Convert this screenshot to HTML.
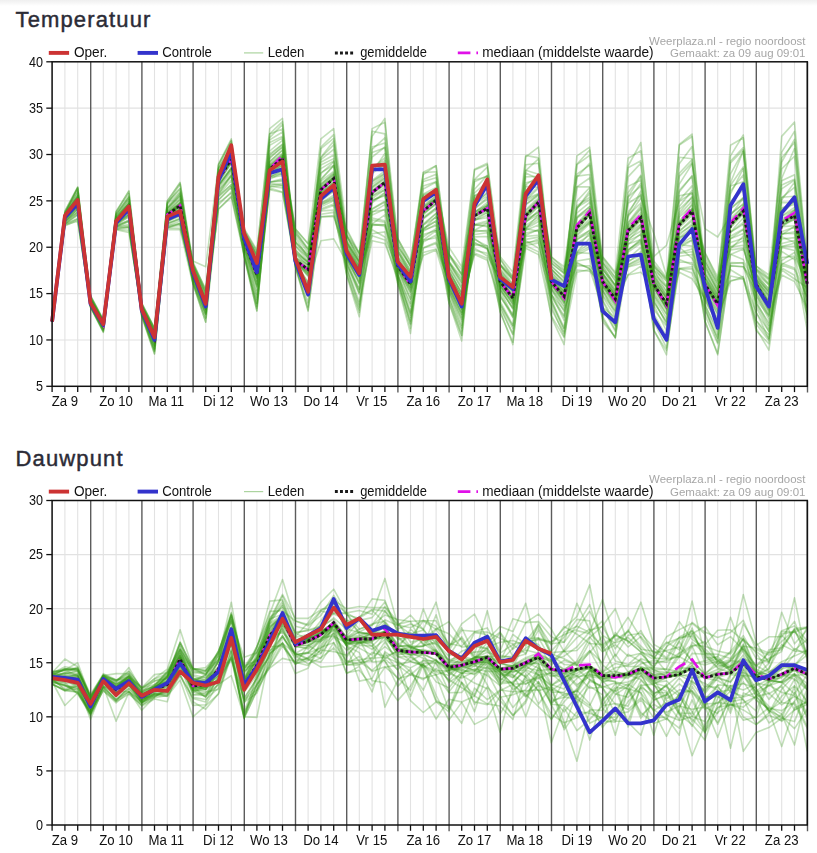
<!DOCTYPE html>
<html lang="nl"><head><meta charset="utf-8"><title>Pluim</title>
<style>
html,body{margin:0;padding:0;background:#fff;}
body{width:817px;height:853px;overflow:hidden;position:relative;font-family:"Liberation Sans",sans-serif;background:linear-gradient(#efefef 0px,#fff 6px) no-repeat #fff;}
h2{position:absolute;left:15.5px;margin:0;font-size:22px;font-weight:normal;letter-spacing:1.14px;-webkit-text-stroke:0.45px #2b2b36;color:#2b2b36;line-height:1;white-space:nowrap;}
svg{position:absolute;left:0;top:0;filter:blur(0.35px);}
svg text{font-family:"Liberation Sans",sans-serif;font-size:13.2px;fill:#111;}
svg .wm text{font-size:11.3px;fill:#a6a6a6;}
</style></head><body>
<h2 style="top:8.5px">Temperatuur</h2>
<h2 style="top:447.5px">Dauwpunt</h2>
<svg width="817" height="853" viewBox="0 0 817 853">
<line x1="52.1" x2="807.3000000000001" y1="339.94" y2="339.94" stroke="#e2e2e2" stroke-width="1.1"/>
<line x1="52.1" x2="807.3000000000001" y1="293.59" y2="293.59" stroke="#e2e2e2" stroke-width="1.1"/>
<line x1="52.1" x2="807.3000000000001" y1="247.23" y2="247.23" stroke="#e2e2e2" stroke-width="1.1"/>
<line x1="52.1" x2="807.3000000000001" y1="200.87" y2="200.87" stroke="#e2e2e2" stroke-width="1.1"/>
<line x1="52.1" x2="807.3000000000001" y1="154.51" y2="154.51" stroke="#e2e2e2" stroke-width="1.1"/>
<line x1="52.1" x2="807.3000000000001" y1="108.16" y2="108.16" stroke="#e2e2e2" stroke-width="1.1"/>
<line x1="52.10" x2="52.10" y1="61.8" y2="386.3" stroke="#e2e2e2" stroke-width="1.1"/>
<line x1="64.90" x2="64.90" y1="61.8" y2="386.3" stroke="#e2e2e2" stroke-width="1.1"/>
<line x1="77.70" x2="77.70" y1="61.8" y2="386.3" stroke="#e2e2e2" stroke-width="1.1"/>
<line x1="90.70" x2="90.70" y1="61.8" y2="392.5" stroke="#5c5c5c" stroke-width="1.4"/>
<line x1="103.30" x2="103.30" y1="61.8" y2="386.3" stroke="#e2e2e2" stroke-width="1.1"/>
<line x1="116.10" x2="116.10" y1="61.8" y2="386.3" stroke="#e2e2e2" stroke-width="1.1"/>
<line x1="128.90" x2="128.90" y1="61.8" y2="386.3" stroke="#e2e2e2" stroke-width="1.1"/>
<line x1="141.90" x2="141.90" y1="61.8" y2="392.5" stroke="#5c5c5c" stroke-width="1.4"/>
<line x1="154.50" x2="154.50" y1="61.8" y2="386.3" stroke="#e2e2e2" stroke-width="1.1"/>
<line x1="167.30" x2="167.30" y1="61.8" y2="386.3" stroke="#e2e2e2" stroke-width="1.1"/>
<line x1="180.10" x2="180.10" y1="61.8" y2="386.3" stroke="#e2e2e2" stroke-width="1.1"/>
<line x1="193.10" x2="193.10" y1="61.8" y2="392.5" stroke="#5c5c5c" stroke-width="1.4"/>
<line x1="205.70" x2="205.70" y1="61.8" y2="386.3" stroke="#e2e2e2" stroke-width="1.1"/>
<line x1="218.50" x2="218.50" y1="61.8" y2="386.3" stroke="#e2e2e2" stroke-width="1.1"/>
<line x1="231.30" x2="231.30" y1="61.8" y2="386.3" stroke="#e2e2e2" stroke-width="1.1"/>
<line x1="244.30" x2="244.30" y1="61.8" y2="392.5" stroke="#5c5c5c" stroke-width="1.4"/>
<line x1="256.90" x2="256.90" y1="61.8" y2="386.3" stroke="#e2e2e2" stroke-width="1.1"/>
<line x1="269.70" x2="269.70" y1="61.8" y2="386.3" stroke="#e2e2e2" stroke-width="1.1"/>
<line x1="282.50" x2="282.50" y1="61.8" y2="386.3" stroke="#e2e2e2" stroke-width="1.1"/>
<line x1="295.50" x2="295.50" y1="61.8" y2="392.5" stroke="#5c5c5c" stroke-width="1.4"/>
<line x1="308.10" x2="308.10" y1="61.8" y2="386.3" stroke="#e2e2e2" stroke-width="1.1"/>
<line x1="320.90" x2="320.90" y1="61.8" y2="386.3" stroke="#e2e2e2" stroke-width="1.1"/>
<line x1="333.70" x2="333.70" y1="61.8" y2="386.3" stroke="#e2e2e2" stroke-width="1.1"/>
<line x1="346.70" x2="346.70" y1="61.8" y2="392.5" stroke="#5c5c5c" stroke-width="1.4"/>
<line x1="359.30" x2="359.30" y1="61.8" y2="386.3" stroke="#e2e2e2" stroke-width="1.1"/>
<line x1="372.10" x2="372.10" y1="61.8" y2="386.3" stroke="#e2e2e2" stroke-width="1.1"/>
<line x1="384.90" x2="384.90" y1="61.8" y2="386.3" stroke="#e2e2e2" stroke-width="1.1"/>
<line x1="397.90" x2="397.90" y1="61.8" y2="392.5" stroke="#5c5c5c" stroke-width="1.4"/>
<line x1="410.50" x2="410.50" y1="61.8" y2="386.3" stroke="#e2e2e2" stroke-width="1.1"/>
<line x1="423.30" x2="423.30" y1="61.8" y2="386.3" stroke="#e2e2e2" stroke-width="1.1"/>
<line x1="436.10" x2="436.10" y1="61.8" y2="386.3" stroke="#e2e2e2" stroke-width="1.1"/>
<line x1="449.10" x2="449.10" y1="61.8" y2="392.5" stroke="#5c5c5c" stroke-width="1.4"/>
<line x1="461.70" x2="461.70" y1="61.8" y2="386.3" stroke="#e2e2e2" stroke-width="1.1"/>
<line x1="474.50" x2="474.50" y1="61.8" y2="386.3" stroke="#e2e2e2" stroke-width="1.1"/>
<line x1="487.30" x2="487.30" y1="61.8" y2="386.3" stroke="#e2e2e2" stroke-width="1.1"/>
<line x1="500.30" x2="500.30" y1="61.8" y2="392.5" stroke="#5c5c5c" stroke-width="1.4"/>
<line x1="512.90" x2="512.90" y1="61.8" y2="386.3" stroke="#e2e2e2" stroke-width="1.1"/>
<line x1="525.70" x2="525.70" y1="61.8" y2="386.3" stroke="#e2e2e2" stroke-width="1.1"/>
<line x1="538.50" x2="538.50" y1="61.8" y2="386.3" stroke="#e2e2e2" stroke-width="1.1"/>
<line x1="551.50" x2="551.50" y1="61.8" y2="392.5" stroke="#5c5c5c" stroke-width="1.4"/>
<line x1="564.10" x2="564.10" y1="61.8" y2="386.3" stroke="#e2e2e2" stroke-width="1.1"/>
<line x1="576.90" x2="576.90" y1="61.8" y2="386.3" stroke="#e2e2e2" stroke-width="1.1"/>
<line x1="589.70" x2="589.70" y1="61.8" y2="386.3" stroke="#e2e2e2" stroke-width="1.1"/>
<line x1="602.70" x2="602.70" y1="61.8" y2="392.5" stroke="#5c5c5c" stroke-width="1.4"/>
<line x1="615.30" x2="615.30" y1="61.8" y2="386.3" stroke="#e2e2e2" stroke-width="1.1"/>
<line x1="628.10" x2="628.10" y1="61.8" y2="386.3" stroke="#e2e2e2" stroke-width="1.1"/>
<line x1="640.90" x2="640.90" y1="61.8" y2="386.3" stroke="#e2e2e2" stroke-width="1.1"/>
<line x1="653.90" x2="653.90" y1="61.8" y2="392.5" stroke="#5c5c5c" stroke-width="1.4"/>
<line x1="666.50" x2="666.50" y1="61.8" y2="386.3" stroke="#e2e2e2" stroke-width="1.1"/>
<line x1="679.30" x2="679.30" y1="61.8" y2="386.3" stroke="#e2e2e2" stroke-width="1.1"/>
<line x1="692.10" x2="692.10" y1="61.8" y2="386.3" stroke="#e2e2e2" stroke-width="1.1"/>
<line x1="705.10" x2="705.10" y1="61.8" y2="392.5" stroke="#5c5c5c" stroke-width="1.4"/>
<line x1="717.70" x2="717.70" y1="61.8" y2="386.3" stroke="#e2e2e2" stroke-width="1.1"/>
<line x1="730.50" x2="730.50" y1="61.8" y2="386.3" stroke="#e2e2e2" stroke-width="1.1"/>
<line x1="743.30" x2="743.30" y1="61.8" y2="386.3" stroke="#e2e2e2" stroke-width="1.1"/>
<line x1="756.30" x2="756.30" y1="61.8" y2="392.5" stroke="#5c5c5c" stroke-width="1.4"/>
<line x1="768.90" x2="768.90" y1="61.8" y2="386.3" stroke="#e2e2e2" stroke-width="1.1"/>
<line x1="781.70" x2="781.70" y1="61.8" y2="386.3" stroke="#e2e2e2" stroke-width="1.1"/>
<line x1="794.50" x2="794.50" y1="61.8" y2="386.3" stroke="#e2e2e2" stroke-width="1.1"/>
<line x1="807.50" x2="807.50" y1="61.8" y2="392.5" stroke="#5c5c5c" stroke-width="1.4"/>
<g stroke="#2f9410" stroke-opacity="0.29" stroke-width="1.6" stroke-linejoin="round" style="filter:blur(0.35px)">
<polyline points="52.1,321.4 64.9,221.1 77.7,208.7 90.5,303.5 103.3,326.3 116.1,226.4 128.9,224.5 141.7,311.3 154.5,343.5 167.3,220.5 180.1,216.4 192.9,271.8 205.7,303.8 218.5,200.2 231.3,187.5 244.1,243.1 256.9,284.9 269.7,177.7 282.5,175.4 295.3,263.0 308.1,285.5 320.9,193.5 333.7,185.1 346.5,261.2 359.3,292.2 372.1,192.3 384.9,182.0 397.7,266.9 410.5,288.7 423.3,225.0 436.1,213.5 448.9,285.6 461.7,312.6 474.5,224.7 487.3,225.7 500.1,281.3 512.9,297.6 525.7,216.3 538.5,203.3 551.3,278.9 564.1,294.1 576.9,243.4 589.7,235.2 602.5,279.0 615.3,295.6 628.1,196.6 640.9,176.2 653.7,283.9 666.5,303.5 679.3,163.7 692.1,146.5 704.9,291.9 717.7,314.0 730.5,227.8 743.3,214.1 756.1,285.4 768.9,306.2 781.7,222.8 794.5,214.9 807.3,280.6" fill="none" />
<polyline points="52.1,321.4 64.9,222.3 77.7,212.0 90.5,307.0 103.3,331.5 116.1,226.4 128.9,221.5 141.7,316.8 154.5,353.8 167.3,225.8 180.1,223.6 192.9,282.8 205.7,322.3 218.5,190.2 231.3,175.6 244.1,247.4 256.9,287.1 269.7,186.3 282.5,187.9 295.3,265.3 308.1,296.1 320.9,201.2 333.7,191.2 346.5,275.0 359.3,316.8 372.1,225.4 384.9,224.6 397.7,266.8 410.5,289.8 423.3,229.2 436.1,221.0 448.9,298.6 461.7,330.9 474.5,231.6 487.3,230.4 500.1,288.7 512.9,308.5 525.7,240.8 538.5,248.1 551.3,284.6 564.1,300.4 576.9,261.0 589.7,258.9 602.5,316.5 615.3,338.1 628.1,223.1 640.9,207.7 653.7,316.5 666.5,339.4 679.3,244.9 692.1,236.9 704.9,278.4 717.7,300.8 730.5,236.2 743.3,229.0 756.1,282.8 768.9,303.3 781.7,168.9 794.5,156.2 807.3,289.0" fill="none" />
<polyline points="52.1,321.4 64.9,218.1 77.7,204.2 90.5,305.5 103.3,329.1 116.1,222.4 128.9,211.4 141.7,315.4 154.5,350.9 167.3,214.1 180.1,203.0 192.9,273.4 205.7,306.0 218.5,188.5 231.3,172.0 244.1,239.8 256.9,275.0 269.7,182.2 282.5,180.1 295.3,262.5 308.1,282.8 320.9,240.7 333.7,238.9 346.5,261.7 359.3,293.1 372.1,218.1 384.9,220.9 397.7,284.3 410.5,333.5 423.3,229.9 436.1,225.8 448.9,292.3 461.7,325.5 474.5,234.5 487.3,232.7 500.1,297.0 512.9,314.4 525.7,235.2 538.5,229.4 551.3,309.0 564.1,333.3 576.9,252.6 589.7,253.4 602.5,307.4 615.3,329.9 628.1,240.7 640.9,226.6 653.7,309.3 666.5,325.9 679.3,245.7 692.1,239.7 704.9,321.4 717.7,353.6 730.5,263.6 743.3,262.8 756.1,301.2 768.9,325.3 781.7,265.0 794.5,269.4 807.3,308.0" fill="none" />
<polyline points="52.1,321.4 64.9,224.6 77.7,219.0 90.5,306.3 103.3,329.5 116.1,221.4 128.9,208.1 141.7,315.4 154.5,351.6 167.3,227.9 180.1,228.4 192.9,274.8 205.7,309.2 218.5,180.8 231.3,161.7 244.1,246.2 256.9,290.5 269.7,186.8 282.5,185.5 295.3,263.4 308.1,293.9 320.9,205.2 333.7,197.7 346.5,253.0 359.3,272.4 372.1,235.7 384.9,239.9 397.7,280.7 410.5,321.1 423.3,229.6 436.1,216.4 448.9,279.5 461.7,301.5 474.5,253.0 487.3,258.2 500.1,308.0 512.9,334.7 525.7,248.2 538.5,254.6 551.3,315.6 564.1,337.3 576.9,255.1 589.7,248.5 602.5,318.9 615.3,337.5 628.1,258.3 640.9,247.3 653.7,299.0 666.5,324.6 679.3,231.2 692.1,221.0 704.9,277.6 717.7,296.3 730.5,246.7 743.3,240.7 756.1,320.5 768.9,334.7 781.7,260.6 794.5,252.5 807.3,284.1" fill="none" />
<polyline points="52.1,321.4 64.9,223.9 77.7,214.3 90.5,302.9 103.3,325.2 116.1,228.7 128.9,227.0 141.7,314.3 154.5,348.6 167.3,225.4 180.1,221.3 192.9,278.9 205.7,313.0 218.5,186.7 231.3,170.0 244.1,239.7 256.9,275.0 269.7,168.9 282.5,158.2 295.3,267.6 308.1,310.0 320.9,217.0 333.7,215.6 346.5,253.6 359.3,275.3 372.1,224.4 384.9,224.7 397.7,274.3 410.5,317.3 423.3,217.5 436.1,208.0 448.9,290.2 461.7,319.3 474.5,239.5 487.3,245.9 500.1,312.1 512.9,342.3 525.7,233.1 538.5,230.3 551.3,296.9 564.1,317.1 576.9,225.8 589.7,210.5 602.5,291.0 615.3,310.4 628.1,264.7 640.9,257.5 653.7,282.7 666.5,303.0 679.3,225.0 692.1,211.1 704.9,287.6 717.7,307.5 730.5,224.7 743.3,208.7 756.1,288.9 768.9,311.1 781.7,209.1 794.5,201.3 807.3,284.8" fill="none" />
<polyline points="52.1,321.4 64.9,225.0 77.7,221.3 90.5,304.0 103.3,327.1 116.1,227.3 128.9,227.1 141.7,312.5 154.5,346.2 167.3,228.0 180.1,223.6 192.9,279.9 205.7,314.2 218.5,204.9 231.3,191.9 244.1,240.9 256.9,277.6 269.7,182.1 282.5,178.9 295.3,265.3 308.1,311.2 320.9,214.2 333.7,212.4 346.5,268.5 359.3,306.9 372.1,233.8 384.9,231.9 397.7,276.8 410.5,312.9 423.3,252.4 436.1,249.0 448.9,279.7 461.7,302.2 474.5,254.6 487.3,260.2 500.1,301.4 512.9,325.4 525.7,244.0 538.5,238.9 551.3,316.8 564.1,344.6 576.9,232.1 589.7,222.9 602.5,321.4 615.3,337.3 628.1,244.4 640.9,233.6 653.7,321.3 666.5,347.9 679.3,268.5 692.1,273.1 704.9,307.4 717.7,342.4 730.5,262.5 743.3,263.0 756.1,328.3 768.9,350.1 781.7,264.4 794.5,257.4 807.3,301.1" fill="none" />
<polyline points="52.1,321.4 64.9,218.8 77.7,206.6 90.5,304.4 103.3,327.1 116.1,219.5 128.9,205.8 141.7,311.9 154.5,345.2 167.3,218.2 180.1,209.8 192.9,272.9 205.7,305.6 218.5,191.3 231.3,175.3 244.1,240.8 256.9,276.7 269.7,177.1 282.5,173.0 295.3,262.9 308.1,288.0 320.9,195.6 333.7,186.6 346.5,257.1 359.3,283.5 372.1,200.9 384.9,194.9 397.7,260.5 410.5,279.6 423.3,218.4 436.1,208.0 448.9,279.7 461.7,303.0 474.5,218.9 487.3,212.0 500.1,283.5 512.9,300.7 525.7,214.4 538.5,200.8 551.3,281.2 564.1,296.2 576.9,218.2 589.7,209.4 602.5,280.9 615.3,299.1 628.1,233.4 640.9,220.4 653.7,296.5 666.5,318.2 679.3,225.0 692.1,213.4 704.9,253.2 717.7,276.9 730.5,185.3 743.3,166.9 756.1,286.5 768.9,309.3 781.7,207.8 794.5,204.5 807.3,283.3" fill="none" />
<polyline points="52.1,321.4 64.9,217.2 77.7,201.1 90.5,307.5 103.3,332.5 116.1,229.2 128.9,230.3 141.7,312.5 154.5,345.2 167.3,211.3 180.1,198.6 192.9,283.5 205.7,317.6 218.5,184.7 231.3,167.8 244.1,243.4 256.9,281.4 269.7,169.2 282.5,158.2 295.3,263.6 308.1,290.2 320.9,203.3 333.7,197.2 346.5,268.4 359.3,304.7 372.1,212.2 384.9,204.6 397.7,281.1 410.5,323.3 423.3,231.3 436.1,224.2 448.9,302.9 461.7,335.4 474.5,215.4 487.3,208.0 500.1,295.7 512.9,317.7 525.7,219.1 538.5,206.4 551.3,286.8 564.1,303.3 576.9,245.2 589.7,242.8 602.5,282.0 615.3,299.5 628.1,249.7 640.9,240.5 653.7,329.4 666.5,354.8 679.3,253.5 692.1,251.7 704.9,291.6 717.7,313.9 730.5,232.3 743.3,222.5 756.1,312.7 768.9,331.2 781.7,268.0 794.5,275.2 807.3,314.6" fill="none" />
<polyline points="52.1,321.4 64.9,223.9 77.7,218.4 90.5,306.9 103.3,331.8 116.1,228.9 128.9,227.8 141.7,313.7 154.5,349.0 167.3,229.6 180.1,229.6 192.9,284.3 205.7,322.0 218.5,202.9 231.3,193.1 244.1,253.3 256.9,308.2 269.7,175.1 282.5,167.1 295.3,266.3 308.1,306.9 320.9,204.5 333.7,199.8 346.5,255.9 359.3,284.0 372.1,202.9 384.9,193.2 397.7,270.6 410.5,299.2 423.3,242.0 436.1,235.0 448.9,302.3 461.7,340.9 474.5,220.5 487.3,215.3 500.1,303.9 512.9,328.4 525.7,236.4 538.5,235.2 551.3,281.3 564.1,296.0 576.9,265.9 589.7,265.9 602.5,279.8 615.3,298.1 628.1,275.0 640.9,272.3 653.7,287.2 666.5,307.9 679.3,235.2 692.1,223.9 704.9,296.0 717.7,317.8 730.5,281.5 743.3,276.4 756.1,330.7 768.9,343.8 781.7,224.8 794.5,218.2 807.3,318.1" fill="none" />
<polyline points="52.1,321.4 64.9,216.8 77.7,201.4 90.5,305.3 103.3,328.5 116.1,226.5 128.9,221.5 141.7,309.2 154.5,338.0 167.3,224.0 180.1,218.5 192.9,282.4 205.7,318.1 218.5,194.3 231.3,174.6 244.1,247.6 256.9,297.3 269.7,189.7 282.5,192.5 295.3,264.5 308.1,290.8 320.9,208.8 333.7,203.9 346.5,264.2 359.3,294.5 372.1,224.3 384.9,226.3 397.7,274.4 410.5,303.5 423.3,248.2 436.1,243.6 448.9,283.3 461.7,309.3 474.5,250.4 487.3,253.3 500.1,281.5 512.9,298.3 525.7,242.3 538.5,241.4 551.3,302.7 564.1,328.5 576.9,263.6 589.7,268.5 602.5,290.5 615.3,313.6 628.1,252.2 640.9,243.1 653.7,295.0 666.5,314.4 679.3,244.8 692.1,246.1 704.9,320.9 717.7,354.8 730.5,265.9 743.3,266.8 756.1,292.5 768.9,312.1 781.7,246.5 794.5,246.3 807.3,285.8" fill="none" />
<polyline points="52.1,321.4 64.9,217.8 77.7,202.2 90.5,306.7 103.3,330.6 116.1,224.9 128.9,216.5 141.7,310.8 154.5,340.9 167.3,216.6 180.1,206.2 192.9,275.7 205.7,309.1 218.5,181.3 231.3,162.8 244.1,241.9 256.9,280.6 269.7,168.8 282.5,158.2 295.3,257.0 308.1,267.3 320.9,189.7 333.7,178.6 346.5,254.0 359.3,274.0 372.1,191.9 384.9,182.0 397.7,266.3 410.5,287.4 423.3,213.4 436.1,204.5 448.9,298.3 461.7,335.5 474.5,202.1 487.3,193.6 500.1,286.4 512.9,305.2 525.7,204.6 538.5,194.4 551.3,281.2 564.1,295.3 576.9,224.0 589.7,208.8 602.5,278.7 615.3,295.5 628.1,228.7 640.9,216.9 653.7,284.5 666.5,303.8 679.3,222.0 692.1,208.5 704.9,274.4 717.7,296.3 730.5,238.6 743.3,229.7 756.1,275.0 768.9,289.4 781.7,214.3 794.5,201.2 807.3,273.9" fill="none" />
<polyline points="52.1,321.4 64.9,223.8 77.7,215.4 90.5,303.2 103.3,325.6 116.1,223.3 128.9,214.5 141.7,309.7 154.5,338.8 167.3,221.5 180.1,213.0 192.9,277.4 205.7,312.3 218.5,181.7 231.3,163.9 244.1,248.1 256.9,294.4 269.7,171.4 282.5,161.0 295.3,261.3 308.1,275.2 320.9,206.9 333.7,200.8 346.5,255.7 359.3,278.2 372.1,196.3 384.9,189.8 397.7,278.7 410.5,324.4 423.3,236.7 436.1,228.8 448.9,278.3 461.7,302.3 474.5,215.2 487.3,208.0 500.1,283.4 512.9,298.6 525.7,239.4 538.5,237.1 551.3,283.7 564.1,298.3 576.9,247.8 589.7,233.0 602.5,289.3 615.3,307.9 628.1,266.4 640.9,261.3 653.7,287.3 666.5,308.7 679.3,233.1 692.1,225.7 704.9,282.6 717.7,303.4 730.5,220.6 743.3,206.2 756.1,284.4 768.9,305.7 781.7,224.8 794.5,219.7 807.3,292.2" fill="none" />
<polyline points="52.1,321.4 64.9,225.9 77.7,220.1 90.5,305.3 103.3,328.8 116.1,226.9 128.9,225.9 141.7,309.5 154.5,339.0 167.3,221.5 180.1,213.4 192.9,277.7 205.7,309.5 218.5,193.8 231.3,176.7 244.1,252.0 256.9,303.5 269.7,173.6 282.5,164.6 295.3,266.5 308.1,302.7 320.9,199.4 333.7,190.7 346.5,266.8 359.3,301.7 372.1,240.7 384.9,243.5 397.7,277.5 410.5,315.2 423.3,247.7 436.1,242.3 448.9,279.7 461.7,302.9 474.5,238.4 487.3,248.5 500.1,293.8 512.9,317.0 525.7,230.2 538.5,225.0 551.3,281.5 564.1,296.4 576.9,239.1 589.7,232.7 602.5,301.0 615.3,325.3 628.1,238.9 640.9,231.0 653.7,302.4 666.5,321.2 679.3,259.6 692.1,264.8 704.9,301.7 717.7,322.2 730.5,276.0 743.3,278.8 756.1,324.0 768.9,340.7 781.7,269.8 794.5,279.0 807.3,287.7" fill="none" />
<polyline points="52.1,321.4 64.9,216.4 77.7,200.1 90.5,302.9 103.3,325.1 116.1,222.2 128.9,209.2 141.7,309.4 154.5,338.1 167.3,227.2 180.1,223.6 192.9,272.3 205.7,304.1 218.5,199.8 231.3,186.6 244.1,245.5 256.9,286.2 269.7,166.8 282.5,155.5 295.3,254.1 308.1,265.9 320.9,190.0 333.7,178.9 346.5,253.2 359.3,272.9 372.1,215.1 384.9,209.2 397.7,266.0 410.5,284.3 423.3,201.3 436.1,193.4 448.9,280.2 461.7,304.9 474.5,220.3 487.3,212.6 500.1,290.3 512.9,316.0 525.7,227.5 538.5,219.2 551.3,299.5 564.1,327.8 576.9,236.0 589.7,223.7 602.5,300.0 615.3,321.6 628.1,232.3 640.9,219.6 653.7,313.9 666.5,336.4 679.3,268.2 692.1,266.7 704.9,310.8 717.7,338.0 730.5,232.1 743.3,224.4 756.1,295.4 768.9,319.0 781.7,247.4 794.5,250.5 807.3,292.1" fill="none" />
<polyline points="52.1,321.4 64.9,219.3 77.7,206.1 90.5,303.8 103.3,326.4 116.1,221.6 128.9,208.8 141.7,313.1 154.5,349.7 167.3,214.8 180.1,205.5 192.9,273.9 205.7,306.2 218.5,196.9 231.3,184.9 244.1,238.8 256.9,270.9 269.7,172.4 282.5,163.8 295.3,260.4 308.1,270.3 320.9,181.2 333.7,171.4 346.5,253.1 359.3,273.5 372.1,191.1 384.9,180.7 397.7,263.2 410.5,283.4 423.3,203.2 436.1,192.3 448.9,279.9 461.7,303.1 474.5,208.8 487.3,199.1 500.1,281.5 512.9,298.0 525.7,209.7 538.5,197.9 551.3,294.5 564.1,315.8 576.9,252.1 589.7,243.6 602.5,269.1 615.3,285.5 628.1,236.4 640.9,224.9 653.7,284.5 666.5,303.8 679.3,212.8 692.1,196.7 704.9,296.8 717.7,321.0 730.5,213.7 743.3,204.3 756.1,307.1 768.9,331.3 781.7,257.5 794.5,256.1 807.3,284.1" fill="none" />
<polyline points="52.1,321.4 64.9,220.4 77.7,208.7 90.5,297.3 103.3,321.2 116.1,219.6 128.9,204.9 141.7,304.9 154.5,329.4 167.3,214.7 180.1,205.4 192.9,275.3 205.7,307.8 218.5,179.7 231.3,159.5 244.1,239.4 256.9,274.1 269.7,182.0 282.5,181.1 295.3,260.2 308.1,269.7 320.9,188.6 333.7,177.1 346.5,272.7 359.3,309.9 372.1,220.1 384.9,222.3 397.7,265.8 410.5,284.3 423.3,211.0 436.1,199.8 448.9,280.8 461.7,304.9 474.5,224.3 487.3,221.0 500.1,284.3 512.9,300.7 525.7,228.6 538.5,231.4 551.3,294.1 564.1,320.3 576.9,240.0 589.7,230.2 602.5,296.2 615.3,316.5 628.1,250.6 640.9,239.0 653.7,284.4 666.5,303.8 679.3,252.8 692.1,249.1 704.9,284.2 717.7,303.8 730.5,242.6 743.3,238.3 756.1,292.9 768.9,315.8 781.7,233.2 794.5,233.8 807.3,284.5" fill="none" />
<polyline points="52.1,321.4 64.9,221.0 77.7,211.0 90.5,302.9 103.3,325.1 116.1,229.6 128.9,232.4 141.7,308.4 154.5,336.7 167.3,223.8 180.1,219.6 192.9,282.2 205.7,314.3 218.5,196.1 231.3,184.5 244.1,255.3 256.9,303.6 269.7,188.0 282.5,192.0 295.3,260.7 308.1,272.9 320.9,210.0 333.7,205.6 346.5,264.7 359.3,289.2 372.1,209.3 384.9,202.0 397.7,274.8 410.5,306.1 423.3,225.0 436.1,217.2 448.9,288.3 461.7,314.7 474.5,244.9 487.3,245.9 500.1,288.3 512.9,309.0 525.7,228.7 538.5,221.5 551.3,305.3 564.1,336.4 576.9,272.3 589.7,269.5 602.5,307.1 615.3,326.0 628.1,225.9 640.9,212.3 653.7,288.9 666.5,307.6 679.3,272.3 692.1,278.8 704.9,298.7 717.7,325.5 730.5,265.7 743.3,266.7 756.1,284.5 768.9,305.8 781.7,234.8 794.5,226.3 807.3,323.0" fill="none" />
<polyline points="52.1,321.4 64.9,219.5 77.7,207.1 90.5,306.1 103.3,330.7 116.1,225.8 128.9,220.2 141.7,315.1 154.5,353.9 167.3,221.9 180.1,215.4 192.9,272.5 205.7,305.2 218.5,178.5 231.3,158.0 244.1,256.5 256.9,310.5 269.7,177.0 282.5,171.0 295.3,262.1 308.1,282.7 320.9,203.3 333.7,195.2 346.5,253.1 359.3,272.9 372.1,229.8 384.9,237.0 397.7,269.5 410.5,294.1 423.3,240.0 436.1,230.7 448.9,287.1 461.7,312.0 474.5,236.9 487.3,236.5 500.1,303.8 512.9,325.8 525.7,221.7 538.5,214.6 551.3,300.5 564.1,331.6 576.9,226.6 589.7,213.4 602.5,282.6 615.3,302.3 628.1,267.1 640.9,263.8 653.7,282.9 666.5,302.6 679.3,221.5 692.1,203.6 704.9,289.0 717.7,310.1 730.5,225.5 743.3,212.7 756.1,281.9 768.9,302.1 781.7,222.4 794.5,215.4 807.3,284.3" fill="none" />
<polyline points="52.1,321.4 64.9,216.5 77.7,200.6 90.5,304.1 103.3,327.1 116.1,223.6 128.9,214.6 141.7,310.1 154.5,339.4 167.3,216.5 180.1,208.7 192.9,273.9 205.7,307.1 218.5,209.0 231.3,196.1 244.1,252.0 256.9,299.4 269.7,183.4 282.5,185.4 295.3,263.1 308.1,286.3 320.9,210.9 333.7,210.1 346.5,274.1 359.3,312.3 372.1,196.1 384.9,187.1 397.7,269.4 410.5,291.3 423.3,255.6 436.1,250.0 448.9,292.3 461.7,321.2 474.5,219.6 487.3,217.8 500.1,305.7 512.9,333.9 525.7,245.7 538.5,251.9 551.3,294.5 564.1,310.1 576.9,262.4 589.7,268.7 602.5,283.7 615.3,301.9 628.1,261.1 640.9,255.6 653.7,317.0 666.5,341.7 679.3,256.3 692.1,254.5 704.9,314.9 717.7,343.6 730.5,254.5 743.3,249.1 756.1,285.6 768.9,307.0 781.7,231.7 794.5,227.1 807.3,295.9" fill="none" />
<polyline points="52.1,321.4 64.9,221.5 77.7,212.5 90.5,296.5 103.3,320.7 116.1,224.6 128.9,216.8 141.7,309.1 154.5,337.6 167.3,219.2 180.1,211.8 192.9,272.3 205.7,304.8 218.5,178.1 231.3,156.5 244.1,242.5 256.9,278.4 269.7,179.2 282.5,172.9 295.3,258.8 308.1,268.9 320.9,190.2 333.7,179.7 346.5,255.0 359.3,277.1 372.1,223.9 384.9,214.8 397.7,274.2 410.5,311.8 423.3,240.1 436.1,237.7 448.9,284.6 461.7,309.1 474.5,248.1 487.3,256.0 500.1,279.1 512.9,294.3 525.7,245.5 538.5,243.0 551.3,289.5 564.1,311.4 576.9,270.0 589.7,271.3 602.5,285.3 615.3,301.9 628.1,243.9 640.9,239.4 653.7,330.7 666.5,350.5 679.3,262.0 692.1,262.7 704.9,282.9 717.7,303.4 730.5,280.5 743.3,278.7 756.1,320.6 768.9,338.7 781.7,251.3 794.5,259.6 807.3,330.7" fill="none" />
<polyline points="52.1,321.4 64.9,216.0 77.7,199.5 90.5,303.4 103.3,325.5 116.1,225.5 128.9,220.5 141.7,307.8 154.5,335.5 167.3,216.2 180.1,206.3 192.9,274.4 205.7,307.3 218.5,179.5 231.3,159.1 244.1,243.4 256.9,284.8 269.7,169.5 282.5,158.2 295.3,260.8 308.1,274.0 320.9,147.0 333.7,134.7 346.5,245.7 359.3,266.6 372.1,167.9 384.9,158.0 397.7,265.8 410.5,284.3 423.3,206.8 436.1,196.2 448.9,262.6 461.7,285.3 474.5,193.0 487.3,181.5 500.1,272.2 512.9,288.6 525.7,216.6 538.5,204.3 551.3,269.3 564.1,283.4 576.9,208.1 589.7,193.6 602.5,281.3 615.3,299.1 628.1,230.4 640.9,217.1 653.7,285.9 666.5,304.8 679.3,206.5 692.1,190.4 704.9,256.2 717.7,281.0 730.5,224.3 743.3,211.1 756.1,279.7 768.9,295.5 781.7,221.5 794.5,214.6 807.3,283.0" fill="none" />
<polyline points="52.1,321.4 64.9,216.6 77.7,200.8 90.5,303.1 103.3,325.8 116.1,223.2 128.9,213.9 141.7,309.9 154.5,339.8 167.3,222.9 180.1,218.5 192.9,272.3 205.7,304.7 218.5,209.2 231.3,197.2 244.1,256.2 256.9,306.4 269.7,185.4 282.5,183.6 295.3,261.4 308.1,276.6 320.9,192.9 333.7,182.2 346.5,258.7 359.3,282.3 372.1,193.4 384.9,185.0 397.7,269.7 410.5,298.9 423.3,210.9 436.1,199.8 448.9,289.9 461.7,317.3 474.5,242.2 487.3,249.2 500.1,282.0 512.9,298.7 525.7,225.3 538.5,216.9 551.3,284.9 564.1,302.2 576.9,231.8 589.7,221.0 602.5,286.4 615.3,305.6 628.1,274.6 640.9,266.1 653.7,274.5 666.5,295.3 679.3,268.9 692.1,268.8 704.9,299.0 717.7,320.9 730.5,249.0 743.3,236.1 756.1,295.9 768.9,314.5 781.7,275.0 794.5,281.5 807.3,308.3" fill="none" />
<polyline points="52.1,321.4 64.9,215.4 77.7,195.4 90.5,301.8 103.3,324.3 116.1,224.0 128.9,215.2 141.7,309.9 154.5,339.1 167.3,227.0 180.1,225.4 192.9,279.4 205.7,313.5 218.5,195.5 231.3,180.2 244.1,255.4 256.9,311.2 269.7,173.8 282.5,165.9 295.3,261.1 308.1,272.7 320.9,216.6 333.7,216.5 346.5,258.5 359.3,289.4 372.1,211.7 384.9,209.8 397.7,282.9 410.5,328.2 423.3,223.9 436.1,213.4 448.9,279.7 461.7,304.1 474.5,216.2 487.3,209.1 500.1,278.5 512.9,296.5 525.7,219.8 538.5,212.3 551.3,288.4 564.1,305.6 576.9,217.7 589.7,206.7 602.5,282.1 615.3,299.6 628.1,230.5 640.9,217.7 653.7,285.3 666.5,307.8 679.3,231.3 692.1,219.0 704.9,266.6 717.7,290.4 730.5,223.4 743.3,209.0 756.1,283.6 768.9,304.6 781.7,221.4 794.5,210.5 807.3,285.9" fill="none" />
<polyline points="52.1,321.4 64.9,219.3 77.7,206.1 90.5,303.5 103.3,325.8 116.1,221.0 128.9,206.9 141.7,312.6 154.5,345.9 167.3,217.4 180.1,209.3 192.9,271.8 205.7,304.2 218.5,183.9 231.3,161.6 244.1,240.1 256.9,275.6 269.7,169.1 282.5,159.9 295.3,260.2 308.1,269.2 320.9,199.1 333.7,189.2 346.5,239.9 359.3,261.9 372.1,180.5 384.9,170.9 397.7,265.7 410.5,284.1 423.3,218.9 436.1,209.7 448.9,282.4 461.7,306.4 474.5,225.1 487.3,222.7 500.1,268.1 512.9,286.8 525.7,201.2 538.5,194.3 551.3,279.9 564.1,295.3 576.9,230.8 589.7,219.1 602.5,286.5 615.3,304.7 628.1,215.1 640.9,203.2 653.7,283.6 666.5,302.1 679.3,217.0 692.1,205.3 704.9,292.1 717.7,310.6 730.5,190.9 743.3,175.1 756.1,283.8 768.9,304.6 781.7,234.2 794.5,231.9 807.3,306.3" fill="none" />
<polyline points="52.1,321.4 64.9,218.1 77.7,205.3 90.5,304.6 103.3,327.6 116.1,219.4 128.9,203.6 141.7,308.5 154.5,337.1 167.3,214.8 180.1,205.2 192.9,269.5 205.7,301.2 218.5,185.6 231.3,169.3 244.1,240.7 256.9,275.7 269.7,172.2 282.5,165.1 295.3,260.5 308.1,272.1 320.9,199.5 333.7,187.0 346.5,249.6 359.3,270.2 372.1,199.9 384.9,195.8 397.7,265.9 410.5,284.4 423.3,215.1 436.1,202.7 448.9,281.5 461.7,305.8 474.5,224.8 487.3,226.8 500.1,280.6 512.9,297.7 525.7,212.5 538.5,199.8 551.3,278.9 564.1,292.2 576.9,209.0 589.7,190.8 602.5,282.4 615.3,300.2 628.1,249.9 640.9,241.5 653.7,286.7 666.5,309.1 679.3,247.1 692.1,258.4 704.9,285.0 717.7,305.1 730.5,269.7 743.3,277.5 756.1,312.0 768.9,338.8 781.7,226.6 794.5,225.8 807.3,301.8" fill="none" />
<polyline points="52.1,321.4 64.9,216.4 77.7,200.3 90.5,302.9 103.3,325.1 116.1,221.8 128.9,207.6 141.7,307.6 154.5,335.0 167.3,214.6 180.1,205.1 192.9,273.3 205.7,305.7 218.5,185.6 231.3,168.2 244.1,233.7 256.9,261.3 269.7,176.7 282.5,170.3 295.3,260.2 308.1,269.5 320.9,187.7 333.7,177.6 346.5,248.2 359.3,267.2 372.1,208.8 384.9,201.3 397.7,261.2 410.5,280.8 423.3,211.1 436.1,200.1 448.9,283.0 461.7,305.8 474.5,216.2 487.3,209.7 500.1,289.6 512.9,307.7 525.7,215.7 538.5,202.2 551.3,273.1 564.1,285.7 576.9,207.2 589.7,199.8 602.5,281.5 615.3,298.8 628.1,211.9 640.9,194.7 653.7,273.7 666.5,286.7 679.3,144.3 692.1,134.1 704.9,284.4 717.7,303.8 730.5,161.0 743.3,147.6 756.1,274.2 768.9,288.9 781.7,197.7 794.5,187.3 807.3,287.7" fill="none" />
<polyline points="52.1,321.4 64.9,216.7 77.7,200.7 90.5,302.7 103.3,325.0 116.1,221.3 128.9,207.3 141.7,310.6 154.5,340.7 167.3,216.7 180.1,208.9 192.9,269.2 205.7,300.1 218.5,176.3 231.3,153.9 244.1,238.9 256.9,272.6 269.7,145.4 282.5,137.9 295.3,252.4 308.1,262.5 320.9,179.0 333.7,165.5 346.5,252.6 359.3,272.3 372.1,173.3 384.9,164.5 397.7,256.2 410.5,273.6 423.3,211.5 436.1,199.9 448.9,274.2 461.7,297.5 474.5,208.4 487.3,197.5 500.1,285.9 512.9,304.0 525.7,182.8 538.5,179.7 551.3,261.1 564.1,270.4 576.9,224.7 589.7,211.1 602.5,273.5 615.3,292.6 628.1,216.8 640.9,197.9 653.7,233.3 666.5,275.8 679.3,223.7 692.1,210.7 704.9,261.1 717.7,286.4 730.5,249.9 743.3,248.1 756.1,285.3 768.9,306.4 781.7,243.5 794.5,240.5 807.3,282.2" fill="none" />
<polyline points="52.1,321.4 64.9,216.0 77.7,198.0 90.5,298.5 103.3,321.0 116.1,220.8 128.9,206.8 141.7,309.4 154.5,338.3 167.3,214.5 180.1,205.3 192.9,272.3 205.7,304.8 218.5,179.8 231.3,159.7 244.1,238.2 256.9,268.5 269.7,139.9 282.5,132.0 295.3,250.4 308.1,261.8 320.9,183.6 333.7,173.6 346.5,236.0 359.3,261.4 372.1,184.3 384.9,174.8 397.7,266.3 410.5,285.6 423.3,211.1 436.1,199.9 448.9,275.1 461.7,296.8 474.5,243.3 487.3,248.5 500.1,276.6 512.9,291.7 525.7,214.5 538.5,201.1 551.3,283.8 564.1,302.4 576.9,230.0 589.7,214.7 602.5,280.5 615.3,297.6 628.1,230.0 640.9,214.4 653.7,293.5 666.5,313.7 679.3,215.1 692.1,200.9 704.9,304.5 717.7,334.3 730.5,227.3 743.3,211.7 756.1,284.4 768.9,305.4 781.7,239.0 794.5,237.6 807.3,286.8" fill="none" />
<polyline points="52.1,321.4 64.9,214.6 77.7,192.9 90.5,301.6 103.3,323.8 116.1,223.1 128.9,212.1 141.7,308.1 154.5,336.6 167.3,211.8 180.1,199.1 192.9,264.0 205.7,292.7 218.5,177.6 231.3,155.4 244.1,233.6 256.9,262.4 269.7,168.6 282.5,157.5 295.3,237.0 308.1,258.0 320.9,157.3 333.7,141.1 346.5,254.5 359.3,276.5 372.1,192.3 384.9,182.3 397.7,264.5 410.5,283.5 423.3,213.6 436.1,203.3 448.9,278.3 461.7,300.7 474.5,211.8 487.3,204.7 500.1,276.5 512.9,289.9 525.7,204.7 538.5,195.5 551.3,282.6 564.1,297.8 576.9,234.7 589.7,221.7 602.5,294.9 615.3,311.1 628.1,264.9 640.9,259.3 653.7,291.4 666.5,310.5 679.3,237.3 692.1,227.4 704.9,284.4 717.7,303.8 730.5,225.2 743.3,212.8 756.1,304.0 768.9,328.2 781.7,246.5 794.5,243.3 807.3,284.4" fill="none" />
<polyline points="52.1,321.4 64.9,216.6 77.7,200.9 90.5,302.5 103.3,324.8 116.1,221.1 128.9,207.1 141.7,311.0 154.5,341.8 167.3,213.3 180.1,203.2 192.9,268.5 205.7,300.5 218.5,179.8 231.3,160.6 244.1,235.9 256.9,266.8 269.7,151.0 282.5,140.3 295.3,241.3 308.1,255.9 320.9,185.2 333.7,174.9 346.5,251.7 359.3,270.6 372.1,201.3 384.9,192.3 397.7,265.3 410.5,284.0 423.3,210.3 436.1,199.2 448.9,277.7 461.7,300.4 474.5,215.4 487.3,205.8 500.1,269.7 512.9,284.9 525.7,186.4 538.5,187.2 551.3,256.5 564.1,269.2 576.9,201.1 589.7,187.5 602.5,268.7 615.3,289.2 628.1,203.2 640.9,195.1 653.7,270.7 666.5,291.2 679.3,191.9 692.1,175.8 704.9,273.7 717.7,295.1 730.5,162.9 743.3,149.8 756.1,265.9 768.9,278.2 781.7,219.5 794.5,210.0 807.3,269.5" fill="none" />
<polyline points="52.1,321.4 64.9,223.3 77.7,213.6 90.5,299.1 103.3,322.1 116.1,219.4 128.9,203.5 141.7,308.8 154.5,337.1 167.3,207.8 180.1,193.8 192.9,276.4 205.7,309.4 218.5,185.8 231.3,167.4 244.1,239.9 256.9,275.6 269.7,168.1 282.5,157.3 295.3,245.7 308.1,261.1 320.9,190.8 333.7,178.6 346.5,247.7 359.3,268.8 372.1,190.6 384.9,181.1 397.7,259.7 410.5,277.8 423.3,212.5 436.1,200.5 448.9,267.0 461.7,288.9 474.5,189.2 487.3,175.4 500.1,280.9 512.9,297.2 525.7,210.5 538.5,199.9 551.3,265.4 564.1,278.7 576.9,164.6 589.7,155.3 602.5,273.3 615.3,292.4 628.1,166.0 640.9,142.5 653.7,270.2 666.5,287.6 679.3,223.4 692.1,208.2 704.9,259.2 717.7,283.6 730.5,155.8 743.3,135.0 756.1,278.0 768.9,291.4 781.7,215.9 794.5,207.3 807.3,273.9" fill="none" />
<polyline points="52.1,321.4 64.9,216.6 77.7,200.9 90.5,300.2 103.3,323.1 116.1,221.2 128.9,207.5 141.7,308.8 154.5,336.9 167.3,202.4 180.1,188.8 192.9,269.6 205.7,301.0 218.5,178.5 231.3,157.9 244.1,241.7 256.9,278.0 269.7,168.5 282.5,157.9 295.3,261.5 308.1,275.4 320.9,165.0 333.7,158.6 346.5,251.5 359.3,271.4 372.1,198.6 384.9,189.5 397.7,267.7 410.5,292.2 423.3,234.6 436.1,230.6 448.9,287.3 461.7,314.4 474.5,230.4 487.3,231.3 500.1,311.2 512.9,344.6 525.7,221.0 538.5,212.2 551.3,284.1 564.1,299.2 576.9,251.7 589.7,238.2 602.5,307.1 615.3,317.6 628.1,227.4 640.9,215.4 653.7,284.6 666.5,304.8 679.3,247.8 692.1,240.2 704.9,287.7 717.7,306.5 730.5,247.1 743.3,245.2 756.1,303.1 768.9,322.6 781.7,263.2 794.5,268.0 807.3,297.0" fill="none" />
<polyline points="52.1,321.4 64.9,222.0 77.7,208.9 90.5,302.0 103.3,324.4 116.1,220.2 128.9,206.4 141.7,306.1 154.5,332.0 167.3,215.3 180.1,206.0 192.9,271.3 205.7,302.8 218.5,178.0 231.3,158.4 244.1,236.9 256.9,267.5 269.7,158.4 282.5,146.4 295.3,260.3 308.1,270.4 320.9,162.2 333.7,155.0 346.5,248.6 359.3,269.8 372.1,182.1 384.9,173.6 397.7,240.0 410.5,266.4 423.3,194.7 436.1,190.3 448.9,261.3 461.7,277.8 474.5,180.1 487.3,176.5 500.1,272.9 512.9,289.2 525.7,215.5 538.5,202.6 551.3,274.8 564.1,288.2 576.9,226.6 589.7,213.0 602.5,278.9 615.3,293.4 628.1,167.7 640.9,160.8 653.7,280.2 666.5,298.9 679.3,200.1 692.1,185.9 704.9,271.3 717.7,293.4 730.5,194.0 743.3,168.4 756.1,270.7 768.9,284.9 781.7,197.3 794.5,196.2 807.3,278.2" fill="none" />
<polyline points="52.1,321.4 64.9,213.7 77.7,192.1 90.5,301.2 103.3,323.9 116.1,217.0 128.9,203.6 141.7,309.2 154.5,338.1 167.3,219.6 180.1,213.7 192.9,263.7 205.7,289.2 218.5,173.9 231.3,153.4 244.1,231.9 256.9,255.5 269.7,172.1 282.5,160.6 295.3,260.2 308.1,269.5 320.9,188.6 333.7,178.5 346.5,252.8 359.3,272.1 372.1,188.4 384.9,178.6 397.7,268.1 410.5,287.7 423.3,189.0 436.1,182.0 448.9,272.6 461.7,295.6 474.5,213.2 487.3,206.8 500.1,281.9 512.9,299.0 525.7,217.9 538.5,205.9 551.3,263.2 564.1,273.2 576.9,213.0 589.7,202.4 602.5,264.9 615.3,286.5 628.1,225.1 640.9,208.8 653.7,266.1 666.5,285.9 679.3,224.2 692.1,210.9 704.9,280.6 717.7,298.7 730.5,232.0 743.3,217.7 756.1,279.6 768.9,296.5 781.7,202.4 794.5,202.8 807.3,284.3" fill="none" />
<polyline points="52.1,321.4 64.9,215.0 77.7,195.4 90.5,300.2 103.3,323.0 116.1,220.6 128.9,206.4 141.7,307.0 154.5,333.9 167.3,203.7 180.1,184.4 192.9,270.4 205.7,302.4 218.5,168.5 231.3,147.6 244.1,232.3 256.9,254.0 269.7,157.1 282.5,147.4 295.3,242.7 308.1,258.4 320.9,192.2 333.7,182.6 346.5,241.8 359.3,262.6 372.1,193.7 384.9,182.8 397.7,256.5 410.5,277.1 423.3,195.8 436.1,190.3 448.9,254.2 461.7,275.0 474.5,170.1 487.3,164.7 500.1,264.5 512.9,280.1 525.7,173.1 538.5,179.0 551.3,269.1 564.1,281.0 576.9,164.3 589.7,150.0 602.5,269.0 615.3,285.6 628.1,201.5 640.9,183.3 653.7,263.8 666.5,278.7 679.3,145.1 692.1,136.5 704.9,268.8 717.7,290.7 730.5,202.6 743.3,189.7 756.1,276.2 768.9,291.7 781.7,162.0 794.5,139.4 807.3,265.4" fill="none" />
<polyline points="52.1,321.4 64.9,216.7 77.7,200.8 90.5,299.3 103.3,322.8 116.1,219.9 128.9,205.3 141.7,309.4 154.5,338.1 167.3,209.5 180.1,194.5 192.9,271.6 205.7,303.6 218.5,179.3 231.3,159.1 244.1,233.2 256.9,256.1 269.7,161.7 282.5,149.6 295.3,233.2 308.1,249.0 320.9,196.3 333.7,186.5 346.5,256.9 359.3,280.7 372.1,194.2 384.9,184.2 397.7,258.0 410.5,280.2 423.3,172.6 436.1,171.8 448.9,296.1 461.7,328.0 474.5,215.7 487.3,208.3 500.1,286.3 512.9,301.9 525.7,215.7 538.5,202.2 551.3,288.9 564.1,307.6 576.9,253.3 589.7,246.6 602.5,307.4 615.3,331.3 628.1,237.0 640.9,226.7 653.7,278.3 666.5,297.6 679.3,227.6 692.1,215.3 704.9,265.8 717.7,290.7 730.5,214.6 743.3,203.7 756.1,275.5 768.9,292.7 781.7,152.2 794.5,131.4 807.3,266.7" fill="none" />
<polyline points="52.1,321.4 64.9,214.3 77.7,196.1 90.5,302.8 103.3,325.1 116.1,211.1 128.9,191.5 141.7,306.5 154.5,332.2 167.3,203.3 180.1,188.5 192.9,265.3 205.7,294.3 218.5,174.0 231.3,152.8 244.1,236.1 256.9,264.1 269.7,166.0 282.5,155.8 295.3,258.5 308.1,269.0 320.9,192.9 333.7,182.6 346.5,230.1 359.3,254.4 372.1,136.4 384.9,118.4 397.7,262.6 410.5,281.5 423.3,206.8 436.1,198.3 448.9,274.5 461.7,296.6 474.5,198.1 487.3,187.1 500.1,259.3 512.9,278.5 525.7,199.0 538.5,193.4 551.3,280.3 564.1,293.5 576.9,227.8 589.7,213.9 602.5,280.7 615.3,297.2 628.1,196.8 640.9,186.2 653.7,277.0 666.5,296.6 679.3,226.7 692.1,212.7 704.9,285.2 717.7,306.2 730.5,208.4 743.3,197.4 756.1,284.2 768.9,305.7 781.7,184.9 794.5,179.2 807.3,281.3" fill="none" />
<polyline points="52.1,321.4 64.9,215.3 77.7,196.1 90.5,302.9 103.3,325.1 116.1,221.2 128.9,207.0 141.7,309.4 154.5,338.1 167.3,208.2 180.1,196.2 192.9,270.4 205.7,303.0 218.5,169.2 231.3,146.6 244.1,238.5 256.9,271.0 269.7,142.5 282.5,136.4 295.3,257.2 308.1,264.9 320.9,187.3 333.7,176.9 346.5,251.6 359.3,270.5 372.1,167.3 384.9,160.7 397.7,262.5 410.5,282.3 423.3,208.2 436.1,197.9 448.9,271.2 461.7,292.8 474.5,196.0 487.3,187.9 500.1,281.5 512.9,297.8 525.7,214.9 538.5,202.1 551.3,282.4 564.1,297.3 576.9,227.7 589.7,213.8 602.5,266.4 615.3,284.9 628.1,230.5 640.9,217.0 653.7,279.5 666.5,298.9 679.3,237.6 692.1,232.4 704.9,284.4 717.7,303.8 730.5,173.8 743.3,151.1 756.1,286.0 768.9,307.1 781.7,216.2 794.5,209.8 807.3,261.5" fill="none" />
<polyline points="52.1,321.4 64.9,215.9 77.7,197.3 90.5,300.8 103.3,323.6 116.1,217.7 128.9,203.3 141.7,306.2 154.5,333.2 167.3,213.1 180.1,203.2 192.9,266.9 205.7,297.2 218.5,179.4 231.3,158.8 244.1,239.7 256.9,274.9 269.7,137.6 282.5,124.4 295.3,260.5 308.1,270.0 320.9,184.5 333.7,172.5 346.5,252.8 359.3,272.0 372.1,192.4 384.9,182.6 397.7,259.8 410.5,279.2 423.3,228.2 436.1,221.0 448.9,279.9 461.7,303.0 474.5,217.0 487.3,210.6 500.1,285.1 512.9,303.5 525.7,228.7 538.5,214.5 551.3,281.6 564.1,296.5 576.9,229.4 589.7,215.8 602.5,273.0 615.3,290.9 628.1,240.9 640.9,234.6 653.7,304.9 666.5,331.0 679.3,224.7 692.1,209.7 704.9,304.8 717.7,329.9 730.5,254.2 743.3,259.5 756.1,288.7 768.9,309.9 781.7,226.6 794.5,216.7 807.3,315.2" fill="none" />
<polyline points="52.1,321.4 64.9,212.6 77.7,188.7 90.5,302.9 103.3,325.0 116.1,215.7 128.9,199.3 141.7,303.4 154.5,328.2 167.3,210.0 180.1,196.0 192.9,268.7 205.7,298.9 218.5,165.2 231.3,141.0 244.1,229.5 256.9,251.3 269.7,133.8 282.5,121.6 295.3,249.4 308.1,263.1 320.9,148.7 333.7,138.4 346.5,235.1 359.3,259.0 372.1,186.6 384.9,176.5 397.7,246.0 410.5,266.4 423.3,193.9 436.1,187.5 448.9,247.2 461.7,266.7 474.5,169.3 487.3,163.3 500.1,258.7 512.9,276.3 525.7,164.7 538.5,163.2 551.3,263.0 564.1,273.7 576.9,174.1 589.7,165.2 602.5,272.5 615.3,290.1 628.1,230.8 640.9,219.1 653.7,266.7 666.5,279.0 679.3,184.1 692.1,163.9 704.9,228.7 717.7,237.0 730.5,215.4 743.3,198.1 756.1,273.6 768.9,284.6 781.7,180.7 794.5,174.8 807.3,271.5" fill="none" />
<polyline points="52.1,321.4 64.9,215.6 77.7,197.3 90.5,302.4 103.3,324.4 116.1,213.9 128.9,197.4 141.7,304.6 154.5,328.9 167.3,204.9 180.1,191.5 192.9,264.4 205.7,293.8 218.5,179.6 231.3,159.1 244.1,239.3 256.9,272.5 269.7,134.0 282.5,129.1 295.3,246.2 308.1,257.7 320.9,172.6 333.7,165.3 346.5,234.0 359.3,252.8 372.1,181.1 384.9,173.2 397.7,264.5 410.5,283.4 423.3,205.6 436.1,195.5 448.9,277.3 461.7,301.3 474.5,215.7 487.3,208.1 500.1,273.6 512.9,291.1 525.7,222.7 538.5,210.3 551.3,282.1 564.1,297.0 576.9,237.4 589.7,230.7 602.5,285.0 615.3,303.5 628.1,262.5 640.9,251.4 653.7,301.3 666.5,322.3 679.3,239.3 692.1,228.9 704.9,307.7 717.7,338.5 730.5,238.8 743.3,233.5 756.1,282.1 768.9,302.2 781.7,236.8 794.5,242.5 807.3,296.8" fill="none" />
<polyline points="52.1,321.4 64.9,213.3 77.7,188.0 90.5,303.5 103.3,326.1 116.1,217.8 128.9,203.2 141.7,303.6 154.5,329.2 167.3,214.8 180.1,206.4 192.9,270.3 205.7,302.0 218.5,172.1 231.3,151.6 244.1,235.5 256.9,265.1 269.7,163.2 282.5,153.2 295.3,241.9 308.1,255.4 320.9,186.3 333.7,174.9 346.5,245.4 359.3,268.7 372.1,152.5 384.9,147.7 397.7,250.7 410.5,270.3 423.3,181.5 436.1,177.8 448.9,271.1 461.7,292.5 474.5,205.1 487.3,191.9 500.1,276.7 512.9,292.2 525.7,215.9 538.5,202.6 551.3,278.2 564.1,291.9 576.9,227.5 589.7,213.5 602.5,275.7 615.3,295.6 628.1,192.8 640.9,175.1 653.7,284.3 666.5,303.9 679.3,224.8 692.1,211.0 704.9,280.8 717.7,301.0 730.5,224.8 743.3,211.1 756.1,282.1 768.9,301.5 781.7,226.7 794.5,218.9 807.3,272.6" fill="none" />
<polyline points="52.1,321.4 64.9,211.1 77.7,187.0 90.5,302.1 103.3,324.4 116.1,214.3 128.9,196.3 141.7,308.3 154.5,335.7 167.3,216.1 180.1,208.5 192.9,265.2 205.7,294.5 218.5,175.9 231.3,155.3 244.1,233.2 256.9,257.6 269.7,164.8 282.5,154.9 295.3,234.3 308.1,253.5 320.9,189.4 333.7,177.3 346.5,242.5 359.3,262.4 372.1,172.2 384.9,153.5 397.7,252.8 410.5,273.2 423.3,186.0 436.1,181.8 448.9,253.8 461.7,273.8 474.5,230.3 487.3,223.3 500.1,265.0 512.9,284.4 525.7,200.2 538.5,188.5 551.3,266.8 564.1,277.2 576.9,186.9 589.7,186.7 602.5,281.5 615.3,299.5 628.1,222.5 640.9,205.4 653.7,269.9 666.5,281.1 679.3,190.2 692.1,176.1 704.9,276.9 717.7,298.5 730.5,222.7 743.3,208.9 756.1,299.6 768.9,315.9 781.7,223.1 794.5,216.3 807.3,263.4" fill="none" />
<polyline points="52.1,321.4 64.9,211.4 77.7,187.3 90.5,296.0 103.3,320.0 116.1,214.7 128.9,197.2 141.7,305.5 154.5,331.8 167.3,212.3 180.1,200.8 192.9,272.7 205.7,305.5 218.5,172.5 231.3,150.9 244.1,228.7 256.9,250.0 269.7,165.0 282.5,154.2 295.3,228.7 308.1,243.5 320.9,138.8 333.7,128.6 346.5,228.7 359.3,253.0 372.1,187.1 384.9,177.9 397.7,251.4 410.5,275.7 423.3,201.2 436.1,193.2 448.9,256.3 461.7,274.5 474.5,196.0 487.3,189.5 500.1,256.5 512.9,272.3 525.7,155.4 538.5,157.9 551.3,269.2 564.1,281.8 576.9,227.5 589.7,213.5 602.5,262.5 615.3,281.4 628.1,176.9 640.9,163.1 653.7,281.1 666.5,298.1 679.3,176.4 692.1,162.6 704.9,273.4 717.7,293.8 730.5,201.8 743.3,185.9 756.1,269.2 768.9,280.2 781.7,221.1 794.5,215.0 807.3,278.0" fill="none" />
<polyline points="52.1,321.4 64.9,216.1 77.7,199.4 90.5,298.2 103.3,321.5 116.1,216.6 128.9,200.0 141.7,310.2 154.5,340.3 167.3,201.0 180.1,182.3 192.9,262.9 205.7,291.1 218.5,168.4 231.3,143.2 244.1,239.7 256.9,274.7 269.7,166.8 282.5,156.3 295.3,257.6 308.1,268.3 320.9,189.7 333.7,178.6 346.5,252.3 359.3,271.3 372.1,170.9 384.9,164.8 397.7,243.5 410.5,266.7 423.3,210.4 436.1,198.8 448.9,254.4 461.7,269.8 474.5,204.2 487.3,195.8 500.1,271.3 512.9,287.9 525.7,170.2 538.5,174.2 551.3,257.2 564.1,266.7 576.9,177.2 589.7,163.4 602.5,261.8 615.3,277.4 628.1,230.4 640.9,217.1 653.7,275.0 666.5,291.6 679.3,173.3 692.1,159.6 704.9,277.3 717.7,299.1 730.5,224.3 743.3,210.1 756.1,280.2 768.9,300.7 781.7,136.4 794.5,122.1 807.3,262.1" fill="none" />
<polyline points="52.1,321.4 64.9,213.4 77.7,191.2 90.5,299.2 103.3,321.8 116.1,217.2 128.9,201.7 141.7,302.9 154.5,327.9 167.3,200.9 180.1,183.1 192.9,266.6 205.7,298.0 218.5,175.7 231.3,155.6 244.1,230.6 256.9,256.0 269.7,155.4 282.5,144.7 295.3,230.1 308.1,249.0 320.9,168.6 333.7,160.9 346.5,235.8 359.3,257.8 372.1,157.1 384.9,147.0 397.7,248.2 410.5,271.0 423.3,201.4 436.1,192.6 448.9,262.2 461.7,279.6 474.5,214.5 487.3,205.8 500.1,264.7 512.9,280.0 525.7,198.4 538.5,186.8 551.3,275.8 564.1,291.1 576.9,176.1 589.7,174.5 602.5,258.6 615.3,277.8 628.1,186.4 640.9,180.0 653.7,264.9 666.5,280.8 679.3,195.8 692.1,193.1 704.9,262.0 717.7,283.4 730.5,145.2 743.3,137.8 756.1,268.6 768.9,278.9 781.7,188.8 794.5,180.2 807.3,269.7" fill="none" />
<polyline points="52.1,321.4 64.9,217.1 77.7,203.0 90.5,299.8 103.3,323.0 116.1,222.3 128.9,209.8 141.7,307.4 154.5,334.4 167.3,213.7 180.1,204.2 192.9,272.2 205.7,304.5 218.5,163.8 231.3,138.8 244.1,237.5 256.9,268.4 269.7,161.6 282.5,150.5 295.3,228.8 308.1,244.1 320.9,159.7 333.7,149.4 346.5,242.9 359.3,265.2 372.1,128.6 384.9,122.3 397.7,238.7 410.5,261.1 423.3,179.4 436.1,174.3 448.9,263.5 461.7,282.2 474.5,212.2 487.3,205.2 500.1,277.8 512.9,296.0 525.7,170.7 538.5,158.9 551.3,275.6 564.1,287.3 576.9,155.9 589.7,147.1 602.5,256.5 615.3,272.3 628.1,158.2 640.9,150.8 653.7,256.7 666.5,245.4 679.3,201.3 692.1,193.2 704.9,264.7 717.7,287.9 730.5,208.8 743.3,198.3 756.1,265.8 768.9,275.0 781.7,158.1 794.5,142.4 807.3,276.0" fill="none" />
<polyline points="52.1,321.4 64.9,216.2 77.7,200.1 90.5,302.4 103.3,324.5 116.1,212.1 128.9,190.7 141.7,305.5 154.5,332.3 167.3,212.6 180.1,202.7 192.9,267.8 205.7,298.5 218.5,172.2 231.3,148.6 244.1,238.8 256.9,271.7 269.7,154.0 282.5,144.1 295.3,253.2 308.1,265.1 320.9,173.7 333.7,161.8 346.5,240.7 359.3,262.0 372.1,147.0 384.9,142.9 397.7,250.5 410.5,273.1 423.3,208.4 436.1,198.1 448.9,261.3 461.7,282.4 474.5,179.5 487.3,167.1 500.1,279.6 512.9,296.6 525.7,156.8 538.5,147.1 551.3,277.4 564.1,290.7 576.9,186.8 589.7,178.0 602.5,274.9 615.3,294.9 628.1,233.5 640.9,223.8 653.7,276.5 666.5,294.2 679.3,209.4 692.1,197.4 704.9,286.3 717.7,306.1 730.5,186.1 743.3,181.7 756.1,269.8 768.9,283.2 781.7,200.0 794.5,182.1 807.3,274.3" fill="none" />
<polyline points="52.1,321.4 64.9,216.7 77.7,200.9 90.5,295.4 103.3,319.5 116.1,212.1 128.9,193.6 141.7,305.3 154.5,331.7 167.3,207.9 180.1,192.4 192.9,261.1 205.7,266.7 218.5,164.9 231.3,140.3 244.1,239.5 256.9,273.8 269.7,169.8 282.5,161.6 295.3,231.2 308.1,251.0 320.9,179.9 333.7,165.8 346.5,242.6 359.3,265.9 372.1,149.4 384.9,137.9 397.7,238.0 410.5,263.1 423.3,172.1 436.1,165.6 448.9,269.2 461.7,294.0 474.5,181.9 487.3,175.7 500.1,263.8 512.9,277.0 525.7,176.9 538.5,176.2 551.3,259.0 564.1,272.4 576.9,205.7 589.7,197.5 602.5,257.1 615.3,274.1 628.1,231.1 640.9,218.9 653.7,260.7 666.5,277.4 679.3,222.9 692.1,209.1 704.9,252.2 717.7,279.8 730.5,218.4 743.3,206.3 756.1,279.3 768.9,298.2 781.7,178.3 794.5,148.5 807.3,277.4" fill="none" />
<polyline points="52.1,321.4 64.9,213.5 77.7,187.7 90.5,296.3 103.3,320.4 116.1,221.3 128.9,207.5 141.7,309.2 154.5,338.1 167.3,214.4 180.1,204.1 192.9,261.5 205.7,290.2 218.5,178.5 231.3,158.2 244.1,231.0 256.9,253.0 269.7,128.6 282.5,118.4 295.3,252.0 308.1,262.5 320.9,157.8 333.7,144.9 346.5,235.5 359.3,254.7 372.1,131.3 384.9,133.9 397.7,246.4 410.5,264.9 423.3,174.7 436.1,165.6 448.9,266.5 461.7,287.8 474.5,212.4 487.3,202.5 500.1,265.1 512.9,278.6 525.7,184.8 538.5,176.1 551.3,271.5 564.1,286.1 576.9,216.9 589.7,206.6 602.5,262.7 615.3,280.1 628.1,214.7 640.9,191.1 653.7,282.2 666.5,302.1 679.3,157.3 692.1,158.7 704.9,280.4 717.7,301.5 730.5,182.7 743.3,151.2 756.1,278.0 768.9,294.5 781.7,223.1 794.5,215.7 807.3,256.5" fill="none" />
</g>
<polyline points="52.1,321.4 64.9,216.6 77.7,200.9 90.5,302.9 103.3,325.1 116.1,221.3 128.9,207.4 141.7,309.3 154.5,338.1 167.3,214.8 180.1,205.5 192.9,272.3 205.7,304.7 218.5,179.5 231.3,159.2 244.1,239.8 256.9,275.0 269.7,168.9 282.5,155.4 295.3,260.2 308.1,269.5 320.9,189.7 333.7,178.6 346.5,252.8 359.3,272.3 372.1,192.5 384.9,182.3 397.7,265.8 410.5,284.3 423.3,211.1 436.1,199.9 448.9,279.7 461.7,302.9 474.5,215.7 487.3,208.3 500.1,281.5 512.9,298.2 525.7,215.7 538.5,202.3 551.3,281.5 564.1,298.2 576.9,225.4 589.7,211.1 602.5,281.5 615.3,301.0 628.1,228.2 640.9,214.8 653.7,284.3 666.5,305.6 679.3,222.7 692.1,208.3 704.9,284.3 717.7,305.6 730.5,222.7 743.3,208.3 756.1,284.3 768.9,307.5 781.7,220.8 794.5,212.9 807.3,284.3" fill="none" stroke="#e010e8" stroke-width="2.6" stroke-dasharray="12 6"/>
<polyline points="52.1,321.4 64.9,216.6 77.7,200.9 90.5,302.9 103.3,325.1 116.1,221.3 128.9,207.4 141.7,309.3 154.5,338.1 167.3,214.8 180.1,205.5 192.9,272.3 205.7,304.7 218.5,179.5 231.3,159.2 244.1,239.8 256.9,275.0 269.7,168.9 282.5,158.2 295.3,260.2 308.1,269.5 320.9,189.7 333.7,178.6 346.5,252.8 359.3,272.3 372.1,192.5 384.9,182.3 397.7,265.8 410.5,284.3 423.3,211.1 436.1,199.9 448.9,279.7 461.7,302.9 474.5,215.7 487.3,208.3 500.1,281.5 512.9,298.2 525.7,215.7 538.5,202.3 551.3,281.5 564.1,296.4 576.9,227.8 589.7,213.9 602.5,281.5 615.3,299.1 628.1,230.5 640.9,217.6 653.7,284.3 666.5,303.8 679.3,225.0 692.1,211.1 704.9,284.3 717.7,303.8 730.5,225.0 743.3,211.1 756.1,284.3 768.9,305.6 781.7,223.1 794.5,215.7 807.3,284.3" fill="none" stroke="#1a1a1a" stroke-width="2.8" stroke-dasharray="2.7 2.4"/>
<polyline points="52.1,321.4 64.9,217.6 77.7,203.7 90.5,303.8 103.3,325.1 116.1,223.1 128.9,209.2 141.7,310.3 154.5,339.9 167.3,219.4 180.1,213.9 192.9,272.3 205.7,306.6 218.5,180.5 231.3,151.7 244.1,238.0 256.9,272.3 269.7,173.1 282.5,169.3 295.3,261.1 308.1,294.5 320.9,199.0 333.7,187.9 346.5,253.7 359.3,275.0 372.1,169.3 384.9,169.3 397.7,263.9 410.5,281.5 423.3,200.9 436.1,192.5 448.9,278.8 461.7,306.6 474.5,206.4 487.3,184.2 500.1,278.8 512.9,289.0 525.7,196.2 538.5,179.5 551.3,279.7 564.1,286.2 576.9,243.5 589.7,243.5 602.5,311.2 615.3,322.3 628.1,256.5 640.9,254.6 653.7,318.6 666.5,339.9 679.3,244.4 692.1,229.1 704.9,287.1 717.7,327.9 730.5,205.5 743.3,184.2 756.1,286.2 768.9,306.6 781.7,212.9 794.5,197.2 807.3,263.9" fill="none" stroke="#3333cc" stroke-width="3.75" stroke-linejoin="round"/>
<polyline points="52.1,321.4 64.9,215.7 77.7,199.9 90.5,302.9 103.3,324.2 116.1,221.3 128.9,206.4 141.7,309.3 154.5,337.2 167.3,216.6 180.1,211.1 192.9,270.4 205.7,303.8 218.5,176.8 231.3,145.2 244.1,233.3 256.9,263.0 269.7,170.3 282.5,161.5 295.3,258.4 308.1,291.7 320.9,196.2 333.7,185.1 346.5,250.9 359.3,273.2 372.1,165.6 384.9,164.7 397.7,261.6 410.5,276.9 423.3,199.0 436.1,189.7 448.9,276.9 461.7,303.8 474.5,203.7 487.3,179.5 500.1,276.9 512.9,287.1 525.7,193.5 538.5,175.3 551.3,279.7" fill="none" stroke="#cc3333" stroke-width="3.75" stroke-linejoin="round"/>
<rect x="52.1" y="61.8" width="755.20" height="324.5" fill="none" stroke="#111" stroke-width="1.5"/>
<line x1="52.10" x2="52.10" y1="386.3" y2="392.1" stroke="#111" stroke-width="1.3"/>
<line x1="64.90" x2="64.90" y1="386.3" y2="392.1" stroke="#111" stroke-width="1.3"/>
<line x1="77.70" x2="77.70" y1="386.3" y2="392.1" stroke="#111" stroke-width="1.3"/>
<line x1="103.30" x2="103.30" y1="386.3" y2="392.1" stroke="#111" stroke-width="1.3"/>
<line x1="116.10" x2="116.10" y1="386.3" y2="392.1" stroke="#111" stroke-width="1.3"/>
<line x1="128.90" x2="128.90" y1="386.3" y2="392.1" stroke="#111" stroke-width="1.3"/>
<line x1="154.50" x2="154.50" y1="386.3" y2="392.1" stroke="#111" stroke-width="1.3"/>
<line x1="167.30" x2="167.30" y1="386.3" y2="392.1" stroke="#111" stroke-width="1.3"/>
<line x1="180.10" x2="180.10" y1="386.3" y2="392.1" stroke="#111" stroke-width="1.3"/>
<line x1="205.70" x2="205.70" y1="386.3" y2="392.1" stroke="#111" stroke-width="1.3"/>
<line x1="218.50" x2="218.50" y1="386.3" y2="392.1" stroke="#111" stroke-width="1.3"/>
<line x1="231.30" x2="231.30" y1="386.3" y2="392.1" stroke="#111" stroke-width="1.3"/>
<line x1="256.90" x2="256.90" y1="386.3" y2="392.1" stroke="#111" stroke-width="1.3"/>
<line x1="269.70" x2="269.70" y1="386.3" y2="392.1" stroke="#111" stroke-width="1.3"/>
<line x1="282.50" x2="282.50" y1="386.3" y2="392.1" stroke="#111" stroke-width="1.3"/>
<line x1="308.10" x2="308.10" y1="386.3" y2="392.1" stroke="#111" stroke-width="1.3"/>
<line x1="320.90" x2="320.90" y1="386.3" y2="392.1" stroke="#111" stroke-width="1.3"/>
<line x1="333.70" x2="333.70" y1="386.3" y2="392.1" stroke="#111" stroke-width="1.3"/>
<line x1="359.30" x2="359.30" y1="386.3" y2="392.1" stroke="#111" stroke-width="1.3"/>
<line x1="372.10" x2="372.10" y1="386.3" y2="392.1" stroke="#111" stroke-width="1.3"/>
<line x1="384.90" x2="384.90" y1="386.3" y2="392.1" stroke="#111" stroke-width="1.3"/>
<line x1="410.50" x2="410.50" y1="386.3" y2="392.1" stroke="#111" stroke-width="1.3"/>
<line x1="423.30" x2="423.30" y1="386.3" y2="392.1" stroke="#111" stroke-width="1.3"/>
<line x1="436.10" x2="436.10" y1="386.3" y2="392.1" stroke="#111" stroke-width="1.3"/>
<line x1="461.70" x2="461.70" y1="386.3" y2="392.1" stroke="#111" stroke-width="1.3"/>
<line x1="474.50" x2="474.50" y1="386.3" y2="392.1" stroke="#111" stroke-width="1.3"/>
<line x1="487.30" x2="487.30" y1="386.3" y2="392.1" stroke="#111" stroke-width="1.3"/>
<line x1="512.90" x2="512.90" y1="386.3" y2="392.1" stroke="#111" stroke-width="1.3"/>
<line x1="525.70" x2="525.70" y1="386.3" y2="392.1" stroke="#111" stroke-width="1.3"/>
<line x1="538.50" x2="538.50" y1="386.3" y2="392.1" stroke="#111" stroke-width="1.3"/>
<line x1="564.10" x2="564.10" y1="386.3" y2="392.1" stroke="#111" stroke-width="1.3"/>
<line x1="576.90" x2="576.90" y1="386.3" y2="392.1" stroke="#111" stroke-width="1.3"/>
<line x1="589.70" x2="589.70" y1="386.3" y2="392.1" stroke="#111" stroke-width="1.3"/>
<line x1="615.30" x2="615.30" y1="386.3" y2="392.1" stroke="#111" stroke-width="1.3"/>
<line x1="628.10" x2="628.10" y1="386.3" y2="392.1" stroke="#111" stroke-width="1.3"/>
<line x1="640.90" x2="640.90" y1="386.3" y2="392.1" stroke="#111" stroke-width="1.3"/>
<line x1="666.50" x2="666.50" y1="386.3" y2="392.1" stroke="#111" stroke-width="1.3"/>
<line x1="679.30" x2="679.30" y1="386.3" y2="392.1" stroke="#111" stroke-width="1.3"/>
<line x1="692.10" x2="692.10" y1="386.3" y2="392.1" stroke="#111" stroke-width="1.3"/>
<line x1="717.70" x2="717.70" y1="386.3" y2="392.1" stroke="#111" stroke-width="1.3"/>
<line x1="730.50" x2="730.50" y1="386.3" y2="392.1" stroke="#111" stroke-width="1.3"/>
<line x1="743.30" x2="743.30" y1="386.3" y2="392.1" stroke="#111" stroke-width="1.3"/>
<line x1="768.90" x2="768.90" y1="386.3" y2="392.1" stroke="#111" stroke-width="1.3"/>
<line x1="781.70" x2="781.70" y1="386.3" y2="392.1" stroke="#111" stroke-width="1.3"/>
<line x1="794.50" x2="794.50" y1="386.3" y2="392.1" stroke="#111" stroke-width="1.3"/>
<line x1="46.3" x2="52.1" y1="386.30" y2="386.30" stroke="#111" stroke-width="1.3"/>
<text transform="translate(42.90 391.20) scale(1 1.08)" text-anchor="end" textLength="7.0" lengthAdjust="spacingAndGlyphs">5</text>
<line x1="46.3" x2="52.1" y1="339.94" y2="339.94" stroke="#111" stroke-width="1.3"/>
<text transform="translate(42.90 344.84) scale(1 1.08)" text-anchor="end" textLength="14.0" lengthAdjust="spacingAndGlyphs">10</text>
<line x1="46.3" x2="52.1" y1="293.59" y2="293.59" stroke="#111" stroke-width="1.3"/>
<text transform="translate(42.90 298.49) scale(1 1.08)" text-anchor="end" textLength="14.0" lengthAdjust="spacingAndGlyphs">15</text>
<line x1="46.3" x2="52.1" y1="247.23" y2="247.23" stroke="#111" stroke-width="1.3"/>
<text transform="translate(42.90 252.13) scale(1 1.08)" text-anchor="end" textLength="14.0" lengthAdjust="spacingAndGlyphs">20</text>
<line x1="46.3" x2="52.1" y1="200.87" y2="200.87" stroke="#111" stroke-width="1.3"/>
<text transform="translate(42.90 205.77) scale(1 1.08)" text-anchor="end" textLength="14.0" lengthAdjust="spacingAndGlyphs">25</text>
<line x1="46.3" x2="52.1" y1="154.51" y2="154.51" stroke="#111" stroke-width="1.3"/>
<text transform="translate(42.90 159.41) scale(1 1.08)" text-anchor="end" textLength="14.0" lengthAdjust="spacingAndGlyphs">30</text>
<line x1="46.3" x2="52.1" y1="108.16" y2="108.16" stroke="#111" stroke-width="1.3"/>
<text transform="translate(42.90 113.06) scale(1 1.08)" text-anchor="end" textLength="14.0" lengthAdjust="spacingAndGlyphs">35</text>
<line x1="46.3" x2="52.1" y1="61.80" y2="61.80" stroke="#111" stroke-width="1.3"/>
<text transform="translate(42.90 66.70) scale(1 1.08)" text-anchor="end" textLength="14.0" lengthAdjust="spacingAndGlyphs">40</text>
<text transform="translate(64.90 406.00) scale(1 1.08)" text-anchor="middle">Za 9</text>
<text transform="translate(116.10 406.00) scale(1 1.08)" text-anchor="middle">Zo 10</text>
<text transform="translate(166.30 406.00) scale(1 1.08)" text-anchor="middle">Ma 11</text>
<text transform="translate(218.50 406.00) scale(1 1.08)" text-anchor="middle">Di 12</text>
<text transform="translate(268.90 406.00) scale(1 1.08)" text-anchor="middle">Wo 13</text>
<text transform="translate(320.90 406.00) scale(1 1.08)" text-anchor="middle">Do 14</text>
<text transform="translate(371.80 406.00) scale(1 1.08)" text-anchor="middle">Vr 15</text>
<text transform="translate(423.30 406.00) scale(1 1.08)" text-anchor="middle">Za 16</text>
<text transform="translate(474.50 406.00) scale(1 1.08)" text-anchor="middle">Zo 17</text>
<text transform="translate(524.70 406.00) scale(1 1.08)" text-anchor="middle">Ma 18</text>
<text transform="translate(576.90 406.00) scale(1 1.08)" text-anchor="middle">Di 19</text>
<text transform="translate(627.30 406.00) scale(1 1.08)" text-anchor="middle">Wo 20</text>
<text transform="translate(679.30 406.00) scale(1 1.08)" text-anchor="middle">Do 21</text>
<text transform="translate(730.20 406.00) scale(1 1.08)" text-anchor="middle">Vr 22</text>
<text transform="translate(781.70 406.00) scale(1 1.08)" text-anchor="middle">Za 23</text>
<line x1="48.8" x2="69.1" y1="52.9" y2="52.9" stroke="#cc3333" stroke-width="3.9"/>
<text transform="translate(73.90 57.20) scale(1 1.08)" textLength="33.3" lengthAdjust="spacingAndGlyphs">Oper.</text>
<line x1="137.6" x2="158" y1="52.9" y2="52.9" stroke="#3333cc" stroke-width="3.9"/>
<text transform="translate(162.30 57.20) scale(1 1.08)" textLength="49.6" lengthAdjust="spacingAndGlyphs">Controle</text>
<line x1="244" x2="263.2" y1="52.9" y2="52.9" stroke="#2f9410" stroke-opacity="0.4" stroke-width="1.2"/>
<text transform="translate(267.70 57.20) scale(1 1.08)" textLength="36.7" lengthAdjust="spacingAndGlyphs">Leden</text>
<line x1="334.9" x2="353.3" y1="52.9" y2="52.9" stroke="#1a1a1a" stroke-width="3" stroke-dasharray="2.9 2.2"/>
<text transform="translate(360.20 57.20) scale(1 1.08)" textLength="66.6" lengthAdjust="spacingAndGlyphs">gemiddelde</text>
<line x1="457.8" x2="478" y1="52.9" y2="52.9" stroke="#e010e8" stroke-width="2.6" stroke-dasharray="12.6 6"/>
<text transform="translate(482.20 57.20) scale(1 1.08)" textLength="171.4" lengthAdjust="spacingAndGlyphs">mediaan (middelste waarde)</text>
<g class="wm"><text transform="translate(805.50 44.50) scale(1 1.04)" text-anchor="end" textLength="156.4" lengthAdjust="spacingAndGlyphs">Weerplaza.nl - regio noordoost</text><text transform="translate(805.50 57.10) scale(1 1.04)" text-anchor="end" textLength="135.5" lengthAdjust="spacingAndGlyphs">Gemaakt: za 09 aug 09:01</text></g>
<line x1="52.1" x2="807.3000000000001" y1="770.92" y2="770.92" stroke="#e2e2e2" stroke-width="1.1"/>
<line x1="52.1" x2="807.3000000000001" y1="716.83" y2="716.83" stroke="#e2e2e2" stroke-width="1.1"/>
<line x1="52.1" x2="807.3000000000001" y1="662.75" y2="662.75" stroke="#e2e2e2" stroke-width="1.1"/>
<line x1="52.1" x2="807.3000000000001" y1="608.67" y2="608.67" stroke="#e2e2e2" stroke-width="1.1"/>
<line x1="52.1" x2="807.3000000000001" y1="554.58" y2="554.58" stroke="#e2e2e2" stroke-width="1.1"/>
<line x1="52.10" x2="52.10" y1="500.5" y2="825.0" stroke="#e2e2e2" stroke-width="1.1"/>
<line x1="64.90" x2="64.90" y1="500.5" y2="825.0" stroke="#e2e2e2" stroke-width="1.1"/>
<line x1="77.70" x2="77.70" y1="500.5" y2="825.0" stroke="#e2e2e2" stroke-width="1.1"/>
<line x1="90.70" x2="90.70" y1="500.5" y2="831.2" stroke="#5c5c5c" stroke-width="1.4"/>
<line x1="103.30" x2="103.30" y1="500.5" y2="825.0" stroke="#e2e2e2" stroke-width="1.1"/>
<line x1="116.10" x2="116.10" y1="500.5" y2="825.0" stroke="#e2e2e2" stroke-width="1.1"/>
<line x1="128.90" x2="128.90" y1="500.5" y2="825.0" stroke="#e2e2e2" stroke-width="1.1"/>
<line x1="141.90" x2="141.90" y1="500.5" y2="831.2" stroke="#5c5c5c" stroke-width="1.4"/>
<line x1="154.50" x2="154.50" y1="500.5" y2="825.0" stroke="#e2e2e2" stroke-width="1.1"/>
<line x1="167.30" x2="167.30" y1="500.5" y2="825.0" stroke="#e2e2e2" stroke-width="1.1"/>
<line x1="180.10" x2="180.10" y1="500.5" y2="825.0" stroke="#e2e2e2" stroke-width="1.1"/>
<line x1="193.10" x2="193.10" y1="500.5" y2="831.2" stroke="#5c5c5c" stroke-width="1.4"/>
<line x1="205.70" x2="205.70" y1="500.5" y2="825.0" stroke="#e2e2e2" stroke-width="1.1"/>
<line x1="218.50" x2="218.50" y1="500.5" y2="825.0" stroke="#e2e2e2" stroke-width="1.1"/>
<line x1="231.30" x2="231.30" y1="500.5" y2="825.0" stroke="#e2e2e2" stroke-width="1.1"/>
<line x1="244.30" x2="244.30" y1="500.5" y2="831.2" stroke="#5c5c5c" stroke-width="1.4"/>
<line x1="256.90" x2="256.90" y1="500.5" y2="825.0" stroke="#e2e2e2" stroke-width="1.1"/>
<line x1="269.70" x2="269.70" y1="500.5" y2="825.0" stroke="#e2e2e2" stroke-width="1.1"/>
<line x1="282.50" x2="282.50" y1="500.5" y2="825.0" stroke="#e2e2e2" stroke-width="1.1"/>
<line x1="295.50" x2="295.50" y1="500.5" y2="831.2" stroke="#5c5c5c" stroke-width="1.4"/>
<line x1="308.10" x2="308.10" y1="500.5" y2="825.0" stroke="#e2e2e2" stroke-width="1.1"/>
<line x1="320.90" x2="320.90" y1="500.5" y2="825.0" stroke="#e2e2e2" stroke-width="1.1"/>
<line x1="333.70" x2="333.70" y1="500.5" y2="825.0" stroke="#e2e2e2" stroke-width="1.1"/>
<line x1="346.70" x2="346.70" y1="500.5" y2="831.2" stroke="#5c5c5c" stroke-width="1.4"/>
<line x1="359.30" x2="359.30" y1="500.5" y2="825.0" stroke="#e2e2e2" stroke-width="1.1"/>
<line x1="372.10" x2="372.10" y1="500.5" y2="825.0" stroke="#e2e2e2" stroke-width="1.1"/>
<line x1="384.90" x2="384.90" y1="500.5" y2="825.0" stroke="#e2e2e2" stroke-width="1.1"/>
<line x1="397.90" x2="397.90" y1="500.5" y2="831.2" stroke="#5c5c5c" stroke-width="1.4"/>
<line x1="410.50" x2="410.50" y1="500.5" y2="825.0" stroke="#e2e2e2" stroke-width="1.1"/>
<line x1="423.30" x2="423.30" y1="500.5" y2="825.0" stroke="#e2e2e2" stroke-width="1.1"/>
<line x1="436.10" x2="436.10" y1="500.5" y2="825.0" stroke="#e2e2e2" stroke-width="1.1"/>
<line x1="449.10" x2="449.10" y1="500.5" y2="831.2" stroke="#5c5c5c" stroke-width="1.4"/>
<line x1="461.70" x2="461.70" y1="500.5" y2="825.0" stroke="#e2e2e2" stroke-width="1.1"/>
<line x1="474.50" x2="474.50" y1="500.5" y2="825.0" stroke="#e2e2e2" stroke-width="1.1"/>
<line x1="487.30" x2="487.30" y1="500.5" y2="825.0" stroke="#e2e2e2" stroke-width="1.1"/>
<line x1="500.30" x2="500.30" y1="500.5" y2="831.2" stroke="#5c5c5c" stroke-width="1.4"/>
<line x1="512.90" x2="512.90" y1="500.5" y2="825.0" stroke="#e2e2e2" stroke-width="1.1"/>
<line x1="525.70" x2="525.70" y1="500.5" y2="825.0" stroke="#e2e2e2" stroke-width="1.1"/>
<line x1="538.50" x2="538.50" y1="500.5" y2="825.0" stroke="#e2e2e2" stroke-width="1.1"/>
<line x1="551.50" x2="551.50" y1="500.5" y2="831.2" stroke="#5c5c5c" stroke-width="1.4"/>
<line x1="564.10" x2="564.10" y1="500.5" y2="825.0" stroke="#e2e2e2" stroke-width="1.1"/>
<line x1="576.90" x2="576.90" y1="500.5" y2="825.0" stroke="#e2e2e2" stroke-width="1.1"/>
<line x1="589.70" x2="589.70" y1="500.5" y2="825.0" stroke="#e2e2e2" stroke-width="1.1"/>
<line x1="602.70" x2="602.70" y1="500.5" y2="831.2" stroke="#5c5c5c" stroke-width="1.4"/>
<line x1="615.30" x2="615.30" y1="500.5" y2="825.0" stroke="#e2e2e2" stroke-width="1.1"/>
<line x1="628.10" x2="628.10" y1="500.5" y2="825.0" stroke="#e2e2e2" stroke-width="1.1"/>
<line x1="640.90" x2="640.90" y1="500.5" y2="825.0" stroke="#e2e2e2" stroke-width="1.1"/>
<line x1="653.90" x2="653.90" y1="500.5" y2="831.2" stroke="#5c5c5c" stroke-width="1.4"/>
<line x1="666.50" x2="666.50" y1="500.5" y2="825.0" stroke="#e2e2e2" stroke-width="1.1"/>
<line x1="679.30" x2="679.30" y1="500.5" y2="825.0" stroke="#e2e2e2" stroke-width="1.1"/>
<line x1="692.10" x2="692.10" y1="500.5" y2="825.0" stroke="#e2e2e2" stroke-width="1.1"/>
<line x1="705.10" x2="705.10" y1="500.5" y2="831.2" stroke="#5c5c5c" stroke-width="1.4"/>
<line x1="717.70" x2="717.70" y1="500.5" y2="825.0" stroke="#e2e2e2" stroke-width="1.1"/>
<line x1="730.50" x2="730.50" y1="500.5" y2="825.0" stroke="#e2e2e2" stroke-width="1.1"/>
<line x1="743.30" x2="743.30" y1="500.5" y2="825.0" stroke="#e2e2e2" stroke-width="1.1"/>
<line x1="756.30" x2="756.30" y1="500.5" y2="831.2" stroke="#5c5c5c" stroke-width="1.4"/>
<line x1="768.90" x2="768.90" y1="500.5" y2="825.0" stroke="#e2e2e2" stroke-width="1.1"/>
<line x1="781.70" x2="781.70" y1="500.5" y2="825.0" stroke="#e2e2e2" stroke-width="1.1"/>
<line x1="794.50" x2="794.50" y1="500.5" y2="825.0" stroke="#e2e2e2" stroke-width="1.1"/>
<line x1="807.50" x2="807.50" y1="500.5" y2="831.2" stroke="#5c5c5c" stroke-width="1.4"/>
<g stroke="#2f9410" stroke-opacity="0.29" stroke-width="1.6" stroke-linejoin="round" style="filter:blur(0.35px)">
<polyline points="52.1,682.2 64.9,685.2 77.7,691.5 90.5,711.1 103.3,690.9 116.1,701.5 128.9,685.2 141.7,702.7 154.5,689.9 167.3,686.6 180.1,660.0 192.9,688.3 205.7,685.6 218.5,668.8 231.3,638.4 244.1,702.2 256.9,693.1 269.7,663.8 282.5,622.8 295.3,647.4 308.1,641.4 320.9,635.4 333.7,625.2 346.5,640.6 359.3,636.2 372.1,631.5 384.9,619.8 397.7,625.5 410.5,615.2 423.3,629.6 436.1,602.2 448.9,650.6 461.7,630.2 474.5,631.4 487.3,627.9 500.1,651.3 512.9,618.8 525.7,622.7 538.5,614.1 551.3,629.2 564.1,651.6 576.9,637.7 589.7,629.2 602.5,649.1 615.3,634.6 628.1,641.3 640.9,651.9 653.7,659.6 666.5,636.8 679.3,629.6 692.1,623.3 704.9,634.0 717.7,664.0 730.5,652.4 743.3,594.6 756.1,642.2 768.9,663.2 781.7,631.5 794.5,632.1 807.3,643.4" fill="none" />
<polyline points="52.1,679.6 64.9,680.9 77.7,682.0 90.5,711.4 103.3,681.9 116.1,692.2 128.9,691.2 141.7,710.3 154.5,697.1 167.3,689.8 180.1,668.3 192.9,691.8 205.7,696.4 218.5,684.8 231.3,650.0 244.1,711.1 256.9,680.6 269.7,637.4 282.5,632.1 295.3,645.6 308.1,645.3 320.9,639.4 333.7,629.8 346.5,661.4 359.3,660.1 372.1,657.6 384.9,646.7 397.7,656.5 410.5,661.5 423.3,665.1 436.1,675.5 448.9,709.8 461.7,674.3 474.5,662.4 487.3,659.8 500.1,672.8 512.9,677.7 525.7,663.5 538.5,657.3 551.3,669.6 564.1,675.6 576.9,697.3 589.7,681.2 602.5,686.1 615.3,691.3 628.1,683.8 640.9,692.9 653.7,710.6 666.5,702.5 679.3,719.8 692.1,686.4 704.9,706.2 717.7,684.9 730.5,685.8 743.3,690.0 756.1,683.6 768.9,693.7 781.7,686.0 794.5,710.0 807.3,704.6" fill="none" />
<polyline points="52.1,682.1 64.9,685.9 77.7,687.7 90.5,713.8 103.3,686.1 116.1,699.6 128.9,691.0 141.7,705.3 154.5,695.5 167.3,696.2 180.1,680.1 192.9,716.8 205.7,705.7 218.5,694.1 231.3,656.1 244.1,713.3 256.9,684.6 269.7,668.2 282.5,658.4 295.3,661.4 308.1,658.4 320.9,645.3 333.7,625.2 346.5,665.2 359.3,662.4 372.1,660.9 384.9,642.0 397.7,660.4 410.5,671.8 423.3,690.1 436.1,661.3 448.9,667.7 461.7,673.0 474.5,669.0 487.3,671.4 500.1,671.1 512.9,689.6 525.7,681.0 538.5,677.6 551.3,689.5 564.1,693.4 576.9,694.7 589.7,723.2 602.5,716.7 615.3,694.6 628.1,686.1 640.9,672.5 653.7,683.7 666.5,705.5 679.3,695.5 692.1,680.8 704.9,691.9 717.7,674.5 730.5,673.1 743.3,664.8 756.1,683.2 768.9,685.6 781.7,675.8 794.5,674.4 807.3,705.4" fill="none" />
<polyline points="52.1,684.4 64.9,690.8 77.7,685.6 90.5,708.3 103.3,681.5 116.1,693.3 128.9,683.8 141.7,697.7 154.5,690.5 167.3,685.1 180.1,659.0 192.9,688.2 205.7,687.0 218.5,669.0 231.3,632.1 244.1,683.6 256.9,665.8 269.7,637.3 282.5,624.8 295.3,646.2 308.1,649.0 320.9,639.7 333.7,624.8 346.5,645.5 359.3,639.3 372.1,639.0 384.9,631.3 397.7,650.4 410.5,651.2 423.3,652.4 436.1,653.5 448.9,667.2 461.7,665.2 474.5,661.7 487.3,662.6 500.1,669.4 512.9,674.9 525.7,684.0 538.5,675.4 551.3,686.5 564.1,722.2 576.9,761.2 589.7,709.7 602.5,710.4 615.3,689.8 628.1,674.3 640.9,673.4 653.7,684.8 666.5,700.8 679.3,703.8 692.1,726.4 704.9,699.5 717.7,724.4 730.5,698.5 743.3,697.1 756.1,692.7 768.9,706.4 781.7,714.1 794.5,745.0 807.3,692.9" fill="none" />
<polyline points="52.1,681.5 64.9,705.5 77.7,692.8 90.5,710.8 103.3,687.6 116.1,698.9 128.9,688.5 141.7,703.2 154.5,694.0 167.3,694.8 180.1,664.1 192.9,701.7 205.7,709.3 218.5,693.4 231.3,651.8 244.1,716.7 256.9,684.2 269.7,666.5 282.5,642.6 295.3,663.8 308.1,660.5 320.9,650.0 333.7,651.6 346.5,655.2 359.3,643.0 372.1,643.1 384.9,658.6 397.7,650.4 410.5,651.7 423.3,651.2 436.1,653.5 448.9,665.9 461.7,665.2 474.5,661.7 487.3,662.6 500.1,670.1 512.9,671.9 525.7,665.7 538.5,657.3 551.3,673.6 564.1,684.6 576.9,669.2 589.7,650.7 602.5,673.3 615.3,671.3 628.1,675.3 640.9,671.7 653.7,677.6 666.5,676.7 679.3,674.7 692.1,668.2 704.9,678.2 717.7,680.5 730.5,688.2 743.3,700.0 756.1,710.8 768.9,680.1 781.7,677.9 794.5,665.6 807.3,674.3" fill="none" />
<polyline points="52.1,683.3 64.9,691.0 77.7,691.9 90.5,714.0 103.3,683.9 116.1,695.8 128.9,683.9 141.7,698.9 154.5,693.5 167.3,689.7 180.1,660.2 192.9,694.9 205.7,695.4 218.5,679.3 231.3,659.8 244.1,698.5 256.9,678.6 269.7,645.6 282.5,629.4 295.3,655.5 308.1,663.9 320.9,657.7 333.7,647.9 346.5,664.9 359.3,645.1 372.1,646.1 384.9,661.3 397.7,678.7 410.5,675.2 423.3,663.4 436.1,663.2 448.9,691.9 461.7,675.3 474.5,683.1 487.3,688.7 500.1,732.4 512.9,684.1 525.7,666.8 538.5,660.8 551.3,670.9 564.1,671.0 576.9,668.2 589.7,666.5 602.5,676.4 615.3,675.7 628.1,675.3 640.9,668.6 653.7,674.2 666.5,674.5 679.3,656.5 692.1,664.1 704.9,660.9 717.7,656.5 730.5,670.7 743.3,655.1 756.1,676.4 768.9,663.1 781.7,612.3 794.5,643.8 807.3,629.8" fill="none" />
<polyline points="52.1,684.2 64.9,690.4 77.7,688.7 90.5,715.2 103.3,690.5 116.1,702.9 128.9,691.9 141.7,702.8 154.5,692.7 167.3,684.3 180.1,661.9 192.9,689.1 205.7,687.8 218.5,681.9 231.3,641.6 244.1,689.2 256.9,667.8 269.7,639.6 282.5,619.5 295.3,646.2 308.1,640.1 320.9,639.2 333.7,623.5 346.5,640.1 359.3,638.7 372.1,640.9 384.9,633.6 397.7,649.5 410.5,651.9 423.3,652.6 436.1,652.3 448.9,667.1 461.7,670.9 474.5,671.4 487.3,657.2 500.1,669.2 512.9,669.3 525.7,662.7 538.5,663.6 551.3,669.6 564.1,673.3 576.9,686.4 589.7,670.9 602.5,680.6 615.3,681.4 628.1,727.1 640.9,685.4 653.7,684.1 666.5,677.3 679.3,674.5 692.1,665.4 704.9,676.9 717.7,674.3 730.5,671.8 743.3,660.4 756.1,674.8 768.9,672.8 781.7,664.1 794.5,665.4 807.3,654.8" fill="none" />
<polyline points="52.1,682.1 64.9,685.0 77.7,693.4 90.5,712.8 103.3,686.1 116.1,700.3 128.9,691.7 141.7,701.0 154.5,694.7 167.3,693.6 180.1,659.1 192.9,686.5 205.7,687.0 218.5,672.1 231.3,639.8 244.1,698.4 256.9,677.8 269.7,654.7 282.5,626.7 295.3,653.5 308.1,646.2 320.9,637.6 333.7,636.1 346.5,643.0 359.3,643.8 372.1,639.1 384.9,633.5 397.7,650.6 410.5,651.9 423.3,654.4 436.1,659.9 448.9,670.0 461.7,669.3 474.5,674.8 487.3,660.0 500.1,680.0 512.9,669.6 525.7,664.7 538.5,658.1 551.3,684.6 564.1,689.0 576.9,669.7 589.7,667.1 602.5,676.0 615.3,675.2 628.1,672.3 640.9,668.6 653.7,669.4 666.5,676.1 679.3,667.9 692.1,668.2 704.9,677.6 717.7,676.0 730.5,670.1 743.3,646.6 756.1,676.6 768.9,679.0 781.7,669.1 794.5,654.7 807.3,626.5" fill="none" />
<polyline points="52.1,680.9 64.9,685.7 77.7,690.1 90.5,713.5 103.3,686.1 116.1,691.2 128.9,684.2 141.7,702.8 154.5,694.5 167.3,691.7 180.1,665.0 192.9,690.2 205.7,694.6 218.5,684.3 231.3,675.7 244.1,716.7 256.9,717.4 269.7,653.9 282.5,642.8 295.3,673.6 308.1,668.2 320.9,641.2 333.7,629.3 346.5,645.4 359.3,681.1 372.1,678.5 384.9,653.0 397.7,670.3 410.5,700.6 423.3,712.5 436.1,701.8 448.9,711.9 461.7,682.5 474.5,711.7 487.3,672.2 500.1,697.2 512.9,694.8 525.7,689.8 538.5,668.5 551.3,697.1 564.1,712.0 576.9,696.3 589.7,705.7 602.5,679.8 615.3,676.8 628.1,676.9 640.9,669.5 653.7,680.6 666.5,677.1 679.3,674.5 692.1,669.7 704.9,674.9 717.7,672.0 730.5,660.9 743.3,648.1 756.1,665.8 768.9,672.4 781.7,661.7 794.5,656.1 807.3,650.0" fill="none" />
<polyline points="52.1,679.8 64.9,680.2 77.7,682.4 90.5,708.9 103.3,680.5 116.1,690.1 128.9,685.2 141.7,698.9 154.5,690.5 167.3,687.2 180.1,660.0 192.9,694.7 205.7,692.9 218.5,677.9 231.3,639.6 244.1,687.6 256.9,664.9 269.7,626.5 282.5,618.3 295.3,645.3 308.1,641.7 320.9,634.3 333.7,622.4 346.5,640.0 359.3,638.3 372.1,634.3 384.9,631.8 397.7,650.4 410.5,654.5 423.3,667.8 436.1,701.8 448.9,706.3 461.7,723.3 474.5,688.1 487.3,699.6 500.1,690.0 512.9,691.8 525.7,690.9 538.5,689.9 551.3,719.8 564.1,697.2 576.9,690.3 589.7,703.8 602.5,727.6 615.3,711.2 628.1,692.7 640.9,675.6 653.7,694.4 666.5,685.7 679.3,675.1 692.1,681.8 704.9,690.1 717.7,677.5 730.5,673.7 743.3,672.5 756.1,678.7 768.9,678.9 781.7,674.1 794.5,663.6 807.3,672.9" fill="none" />
<polyline points="52.1,679.4 64.9,682.9 77.7,684.5 90.5,713.2 103.3,686.5 116.1,721.2 128.9,692.7 141.7,706.2 154.5,699.0 167.3,701.7 180.1,661.2 192.9,692.2 205.7,686.6 218.5,676.2 231.3,658.3 244.1,716.3 256.9,684.4 269.7,644.7 282.5,630.7 295.3,655.4 308.1,651.9 320.9,641.1 333.7,633.4 346.5,664.6 359.3,665.1 372.1,658.2 384.9,657.3 397.7,662.5 410.5,667.9 423.3,660.8 436.1,660.9 448.9,673.4 461.7,678.0 474.5,671.6 487.3,661.7 500.1,685.9 512.9,707.5 525.7,692.9 538.5,681.8 551.3,702.9 564.1,694.3 576.9,691.5 589.7,669.2 602.5,680.7 615.3,693.9 628.1,697.3 640.9,684.8 653.7,700.1 666.5,694.1 679.3,713.7 692.1,719.0 704.9,732.5 717.7,712.4 730.5,704.3 743.3,709.9 756.1,718.2 768.9,707.6 781.7,718.9 794.5,686.1 807.3,751.4" fill="none" />
<polyline points="52.1,679.7 64.9,688.7 77.7,683.7 90.5,719.5 103.3,687.7 116.1,701.6 128.9,694.1 141.7,704.9 154.5,697.7 167.3,695.4 180.1,676.1 192.9,697.4 205.7,699.5 218.5,687.8 231.3,651.0 244.1,717.9 256.9,690.6 269.7,663.3 282.5,637.5 295.3,653.6 308.1,658.4 320.9,653.4 333.7,636.9 346.5,650.2 359.3,642.6 372.1,641.6 384.9,707.1 397.7,680.4 410.5,669.1 423.3,695.4 436.1,719.0 448.9,699.2 461.7,701.9 474.5,696.1 487.3,669.1 500.1,683.7 512.9,682.6 525.7,669.8 538.5,675.0 551.3,673.0 564.1,678.3 576.9,699.7 589.7,740.1 602.5,699.4 615.3,687.4 628.1,688.7 640.9,692.8 653.7,735.2 666.5,693.8 679.3,678.0 692.1,691.6 704.9,706.2 717.7,737.4 730.5,701.8 743.3,699.1 756.1,724.5 768.9,713.0 781.7,689.2 794.5,675.3 807.3,689.6" fill="none" />
<polyline points="52.1,678.2 64.9,680.9 77.7,680.8 90.5,707.7 103.3,682.1 116.1,693.5 128.9,683.6 141.7,700.5 154.5,693.7 167.3,691.9 180.1,666.1 192.9,686.8 205.7,689.2 218.5,672.0 231.3,657.7 244.1,700.1 256.9,685.2 269.7,660.0 282.5,624.1 295.3,644.7 308.1,640.3 320.9,633.1 333.7,621.9 346.5,639.1 359.3,639.4 372.1,639.7 384.9,636.9 397.7,650.3 410.5,661.0 423.3,653.7 436.1,660.6 448.9,670.6 461.7,665.8 474.5,661.8 487.3,658.0 500.1,669.9 512.9,671.3 525.7,669.8 538.5,659.1 551.3,675.4 564.1,677.6 576.9,673.4 589.7,666.9 602.5,705.3 615.3,688.9 628.1,722.4 640.9,735.2 653.7,693.8 666.5,716.0 679.3,693.1 692.1,690.6 704.9,704.0 717.7,722.5 730.5,697.8 743.3,681.9 756.1,700.2 768.9,708.2 781.7,710.6 794.5,702.0 807.3,726.1" fill="none" />
<polyline points="52.1,680.7 64.9,684.8 77.7,688.5 90.5,709.0 103.3,681.6 116.1,693.2 128.9,683.0 141.7,700.5 154.5,693.4 167.3,696.4 180.1,674.1 192.9,705.4 205.7,704.8 218.5,682.4 231.3,657.1 244.1,712.8 256.9,689.4 269.7,650.9 282.5,636.3 295.3,654.7 308.1,652.7 320.9,658.5 333.7,631.2 346.5,657.3 359.3,640.0 372.1,662.0 384.9,660.7 397.7,686.4 410.5,673.3 423.3,679.7 436.1,668.5 448.9,679.8 461.7,687.7 474.5,696.0 487.3,703.9 500.1,706.0 512.9,719.5 525.7,673.7 538.5,691.1 551.3,714.4 564.1,722.8 576.9,717.8 589.7,710.6 602.5,723.7 615.3,719.6 628.1,701.6 640.9,687.5 653.7,711.6 666.5,736.3 679.3,709.3 692.1,670.8 704.9,697.5 717.7,695.2 730.5,674.5 743.3,664.8 756.1,676.8 768.9,678.6 781.7,666.3 794.5,668.3 807.3,674.3" fill="none" />
<polyline points="52.1,679.3 64.9,680.1 77.7,682.7 90.5,706.0 103.3,680.4 116.1,695.0 128.9,685.2 141.7,700.3 154.5,690.9 167.3,685.0 180.1,657.7 192.9,686.3 205.7,697.4 218.5,667.9 231.3,631.3 244.1,683.0 256.9,656.9 269.7,628.8 282.5,613.8 295.3,644.6 308.1,641.8 320.9,634.5 333.7,624.0 346.5,640.0 359.3,637.6 372.1,637.5 384.9,625.6 397.7,646.6 410.5,644.8 423.3,637.4 436.1,650.8 448.9,667.2 461.7,673.3 474.5,673.8 487.3,666.7 500.1,678.8 512.9,683.6 525.7,716.8 538.5,681.7 551.3,704.2 564.1,705.5 576.9,717.0 589.7,679.2 602.5,687.4 615.3,714.2 628.1,711.9 640.9,699.9 653.7,717.6 666.5,717.2 679.3,735.2 692.1,677.6 704.9,683.4 717.7,690.2 730.5,713.2 743.3,675.5 756.1,676.8 768.9,680.5 781.7,682.0 794.5,693.8 807.3,674.4" fill="none" />
<polyline points="52.1,678.5 64.9,679.9 77.7,687.1 90.5,706.0 103.3,681.2 116.1,689.1 128.9,681.2 141.7,697.1 154.5,689.9 167.3,682.2 180.1,661.0 192.9,685.5 205.7,689.1 218.5,668.6 231.3,626.8 244.1,670.0 256.9,646.5 269.7,619.6 282.5,594.4 295.3,618.4 308.1,618.4 320.9,609.6 333.7,606.5 346.5,621.1 359.3,618.0 372.1,610.2 384.9,622.8 397.7,639.2 410.5,637.2 423.3,621.0 436.1,629.4 448.9,647.2 461.7,623.8 474.5,614.1 487.3,639.7 500.1,626.5 512.9,631.6 525.7,603.3 538.5,653.3 551.3,651.1 564.1,637.0 576.9,619.4 589.7,620.9 602.5,672.5 615.3,654.3 628.1,671.9 640.9,667.8 653.7,678.2 666.5,676.8 679.3,675.9 692.1,674.3 704.9,677.7 717.7,672.7 730.5,673.1 743.3,663.8 756.1,676.9 768.9,681.3 781.7,681.9 794.5,668.5 807.3,674.4" fill="none" />
<polyline points="52.1,684.2 64.9,689.7 77.7,692.2 90.5,716.0 103.3,689.4 116.1,700.1 128.9,688.3 141.7,702.2 154.5,696.2 167.3,689.6 180.1,663.2 192.9,684.8 205.7,684.9 218.5,668.4 231.3,636.0 244.1,679.7 256.9,655.3 269.7,635.1 282.5,618.6 295.3,640.7 308.1,636.1 320.9,631.7 333.7,623.1 346.5,638.3 359.3,637.9 372.1,637.9 384.9,633.2 397.7,648.4 410.5,651.3 423.3,640.1 436.1,651.8 448.9,659.9 461.7,656.0 474.5,664.3 487.3,657.3 500.1,681.3 512.9,668.2 525.7,664.6 538.5,663.1 551.3,705.0 564.1,727.5 576.9,692.8 589.7,673.9 602.5,677.8 615.3,677.6 628.1,674.9 640.9,679.5 653.7,692.3 666.5,692.8 679.3,707.4 692.1,682.9 704.9,699.8 717.7,685.0 730.5,709.8 743.3,668.5 756.1,688.7 768.9,710.4 781.7,701.9 794.5,679.1 807.3,689.9" fill="none" />
<polyline points="52.1,679.4 64.9,680.7 77.7,680.5 90.5,709.0 103.3,682.8 116.1,690.8 128.9,681.7 141.7,697.8 154.5,689.0 167.3,684.6 180.1,660.1 192.9,684.1 205.7,683.6 218.5,661.4 231.3,619.7 244.1,679.9 256.9,658.9 269.7,631.7 282.5,614.7 295.3,637.4 308.1,634.6 320.9,627.9 333.7,617.9 346.5,629.1 359.3,632.5 372.1,634.8 384.9,633.5 397.7,649.4 410.5,629.2 423.3,639.9 436.1,640.0 448.9,662.2 461.7,656.9 474.5,659.2 487.3,642.2 500.1,632.2 512.9,649.2 525.7,638.7 538.5,637.9 551.3,641.9 564.1,634.6 576.9,629.6 589.7,611.3 602.5,635.4 615.3,643.1 628.1,637.6 640.9,649.1 653.7,670.8 666.5,672.6 679.3,672.4 692.1,665.6 704.9,677.7 717.7,672.5 730.5,666.0 743.3,658.3 756.1,665.8 768.9,658.5 781.7,651.5 794.5,597.9 807.3,661.7" fill="none" />
<polyline points="52.1,681.0 64.9,682.6 77.7,694.1 90.5,713.8 103.3,686.3 116.1,694.3 128.9,685.1 141.7,702.5 154.5,696.9 167.3,688.7 180.1,667.7 192.9,689.1 205.7,687.0 218.5,668.8 231.3,632.6 244.1,687.3 256.9,670.7 269.7,635.7 282.5,619.9 295.3,645.5 308.1,642.4 320.9,634.5 333.7,622.7 346.5,639.7 359.3,638.9 372.1,639.0 384.9,638.2 397.7,651.8 410.5,649.7 423.3,650.4 436.1,654.4 448.9,673.5 461.7,665.4 474.5,661.7 487.3,657.5 500.1,669.2 512.9,669.0 525.7,676.7 538.5,690.7 551.3,686.7 564.1,695.9 576.9,690.7 589.7,669.8 602.5,675.9 615.3,675.9 628.1,674.3 640.9,668.6 653.7,674.9 666.5,673.0 679.3,653.3 692.1,645.2 704.9,646.2 717.7,651.0 730.5,653.9 743.3,638.8 756.1,653.0 768.9,671.6 781.7,666.9 794.5,648.5 807.3,654.6" fill="none" />
<polyline points="52.1,678.5 64.9,680.1 77.7,679.9 90.5,707.2 103.3,682.1 116.1,692.3 128.9,683.5 141.7,696.4 154.5,689.7 167.3,684.5 180.1,657.5 192.9,680.3 205.7,681.8 218.5,660.8 231.3,633.7 244.1,685.5 256.9,663.9 269.7,631.2 282.5,619.0 295.3,645.8 308.1,641.6 320.9,634.9 333.7,623.6 346.5,645.3 359.3,642.6 372.1,638.9 384.9,632.9 397.7,656.9 410.5,656.5 423.3,665.3 436.1,671.8 448.9,675.5 461.7,665.3 474.5,663.0 487.3,684.8 500.1,713.8 512.9,692.1 525.7,677.6 538.5,704.1 551.3,687.1 564.1,729.8 576.9,711.6 589.7,713.2 602.5,718.1 615.3,717.1 628.1,685.3 640.9,715.3 653.7,704.3 666.5,712.2 679.3,705.9 692.1,709.3 704.9,707.1 717.7,713.5 730.5,674.7 743.3,675.6 756.1,692.6 768.9,685.8 781.7,681.3 794.5,668.5 807.3,674.3" fill="none" />
<polyline points="52.1,678.7 64.9,690.0 77.7,685.8 90.5,706.5 103.3,677.9 116.1,687.2 128.9,675.3 141.7,696.2 154.5,686.7 167.3,680.4 180.1,651.2 192.9,678.2 205.7,683.2 218.5,668.7 231.3,633.7 244.1,684.0 256.9,664.2 269.7,636.9 282.5,621.3 295.3,645.7 308.1,640.8 320.9,641.6 333.7,625.0 346.5,644.7 359.3,639.2 372.1,636.9 384.9,630.7 397.7,650.3 410.5,646.5 423.3,652.1 436.1,653.4 448.9,663.2 461.7,661.3 474.5,658.8 487.3,655.5 500.1,664.2 512.9,665.2 525.7,657.8 538.5,652.9 551.3,668.7 564.1,671.0 576.9,675.9 589.7,666.9 602.5,708.4 615.3,721.3 628.1,721.1 640.9,686.8 653.7,696.2 666.5,715.0 679.3,720.5 692.1,716.6 704.9,721.4 717.7,691.8 730.5,690.0 743.3,669.7 756.1,691.5 768.9,680.8 781.7,702.5 794.5,704.4 807.3,728.4" fill="none" />
<polyline points="52.1,677.3 64.9,677.6 77.7,678.9 90.5,703.2 103.3,679.0 116.1,683.4 128.9,678.5 141.7,694.8 154.5,687.7 167.3,678.5 180.1,658.1 192.9,686.5 205.7,685.2 218.5,675.6 231.3,641.5 244.1,700.7 256.9,689.6 269.7,653.4 282.5,643.5 295.3,664.2 308.1,657.4 320.9,647.3 333.7,642.7 346.5,672.9 359.3,670.3 372.1,686.1 384.9,667.3 397.7,665.1 410.5,674.9 423.3,678.2 436.1,674.8 448.9,692.7 461.7,692.4 474.5,676.9 487.3,663.2 500.1,672.2 512.9,672.9 525.7,665.7 538.5,674.6 551.3,685.5 564.1,675.5 576.9,703.2 589.7,686.1 602.5,694.9 615.3,735.2 628.1,689.7 640.9,718.1 653.7,700.2 666.5,695.1 679.3,683.8 692.1,694.1 704.9,733.0 717.7,690.2 730.5,748.2 743.3,693.0 756.1,697.9 768.9,723.0 781.7,714.5 794.5,692.8 807.3,713.0" fill="none" />
<polyline points="52.1,678.6 64.9,679.7 77.7,680.2 90.5,705.1 103.3,679.3 116.1,689.2 128.9,678.6 141.7,696.4 154.5,688.6 167.3,676.8 180.1,655.3 192.9,680.0 205.7,681.5 218.5,668.8 231.3,640.2 244.1,686.5 256.9,664.5 269.7,627.4 282.5,617.2 295.3,646.1 308.1,641.1 320.9,633.0 333.7,622.7 346.5,637.4 359.3,629.0 372.1,625.0 384.9,606.6 397.7,621.5 410.5,642.3 423.3,638.4 436.1,644.6 448.9,668.3 461.7,665.2 474.5,657.6 487.3,648.8 500.1,668.8 512.9,665.9 525.7,661.2 538.5,657.3 551.3,669.1 564.1,671.0 576.9,669.2 589.7,666.7 602.5,675.9 615.3,676.9 628.1,674.3 640.9,670.5 653.7,682.6 666.5,680.9 679.3,693.6 692.1,711.8 704.9,731.3 717.7,707.3 730.5,705.1 743.3,702.8 756.1,696.6 768.9,693.4 781.7,704.9 794.5,696.4 807.3,704.0" fill="none" />
<polyline points="52.1,677.4 64.9,672.7 77.7,667.3 90.5,697.4 103.3,675.9 116.1,680.3 128.9,671.1 141.7,688.0 154.5,678.9 167.3,673.7 180.1,655.9 192.9,685.0 205.7,687.4 218.5,669.0 231.3,633.6 244.1,680.7 256.9,664.8 269.7,638.9 282.5,619.6 295.3,646.7 308.1,639.1 320.9,633.9 333.7,623.8 346.5,643.8 359.3,642.0 372.1,639.9 384.9,631.3 397.7,646.6 410.5,646.0 423.3,652.5 436.1,653.7 448.9,668.0 461.7,670.1 474.5,663.5 487.3,664.9 500.1,674.9 512.9,675.0 525.7,696.3 538.5,685.8 551.3,690.6 564.1,681.7 576.9,676.6 589.7,675.3 602.5,675.7 615.3,677.4 628.1,678.1 640.9,668.5 653.7,678.3 666.5,677.1 679.3,674.2 692.1,668.0 704.9,687.8 717.7,675.0 730.5,691.9 743.3,696.3 756.1,685.5 768.9,679.6 781.7,674.7 794.5,679.3 807.3,720.2" fill="none" />
<polyline points="52.1,678.4 64.9,675.6 77.7,675.1 90.5,702.3 103.3,677.1 116.1,681.6 128.9,674.3 141.7,689.4 154.5,678.7 167.3,669.2 180.1,629.8 192.9,668.4 205.7,674.6 218.5,650.9 231.3,617.9 244.1,672.0 256.9,657.7 269.7,623.5 282.5,604.1 295.3,633.2 308.1,630.0 320.9,626.1 333.7,619.4 346.5,637.6 359.3,635.4 372.1,638.8 384.9,634.1 397.7,648.4 410.5,650.4 423.3,608.7 436.1,641.5 448.9,647.7 461.7,627.8 474.5,654.6 487.3,610.8 500.1,661.5 512.9,634.3 525.7,644.4 538.5,637.9 551.3,659.9 564.1,656.2 576.9,647.0 589.7,631.8 602.5,599.5 615.3,640.2 628.1,631.1 640.9,646.2 653.7,658.1 666.5,643.3 679.3,637.9 692.1,633.6 704.9,652.7 717.7,664.3 730.5,659.2 743.3,639.1 756.1,669.3 768.9,675.6 781.7,669.0 794.5,665.5 807.3,649.9" fill="none" />
<polyline points="52.1,677.8 64.9,679.0 77.7,681.7 90.5,710.7 103.3,681.4 116.1,689.8 128.9,681.2 141.7,699.8 154.5,691.9 167.3,688.0 180.1,663.2 192.9,689.5 205.7,691.9 218.5,689.5 231.3,656.3 244.1,718.5 256.9,690.5 269.7,667.1 282.5,645.8 295.3,662.3 308.1,665.5 320.9,649.0 333.7,633.7 346.5,673.6 359.3,666.4 372.1,692.0 384.9,651.6 397.7,660.7 410.5,696.6 423.3,664.1 436.1,695.3 448.9,720.1 461.7,702.4 474.5,724.4 487.3,717.9 500.1,696.2 512.9,715.7 525.7,702.9 538.5,670.9 551.3,692.3 564.1,692.3 576.9,678.4 589.7,671.0 602.5,675.2 615.3,673.9 628.1,674.3 640.9,667.5 653.7,667.9 666.5,669.1 679.3,671.7 692.1,653.4 704.9,654.3 717.7,667.2 730.5,660.2 743.3,646.2 756.1,647.9 768.9,652.9 781.7,630.7 794.5,625.9 807.3,641.1" fill="none" />
<polyline points="52.1,676.7 64.9,674.0 77.7,670.6 90.5,700.7 103.3,678.4 116.1,684.3 128.9,680.3 141.7,696.2 154.5,687.3 167.3,681.5 180.1,656.7 192.9,683.3 205.7,679.8 218.5,654.4 231.3,627.5 244.1,679.8 256.9,653.5 269.7,617.3 282.5,607.6 295.3,639.6 308.1,638.7 320.9,632.4 333.7,622.6 346.5,639.5 359.3,638.5 372.1,633.0 384.9,627.0 397.7,644.9 410.5,635.4 423.3,639.9 436.1,628.5 448.9,633.8 461.7,647.2 474.5,645.1 487.3,648.6 500.1,662.5 512.9,668.0 525.7,661.3 538.5,655.4 551.3,668.7 564.1,660.3 576.9,665.1 589.7,642.1 602.5,664.8 615.3,675.1 628.1,674.3 640.9,658.6 653.7,663.7 666.5,660.3 679.3,656.4 692.1,628.1 704.9,663.0 717.7,658.6 730.5,666.3 743.3,660.2 756.1,676.6 768.9,680.2 781.7,682.7 794.5,675.3 807.3,674.5" fill="none" />
<polyline points="52.1,677.2 64.9,676.3 77.7,678.6 90.5,706.0 103.3,680.1 116.1,689.3 128.9,677.0 141.7,687.7 154.5,674.6 167.3,672.7 180.1,646.0 192.9,674.7 205.7,677.7 218.5,662.4 231.3,619.8 244.1,680.9 256.9,646.7 269.7,614.1 282.5,579.5 295.3,620.9 308.1,625.8 320.9,615.5 333.7,595.4 346.5,614.9 359.3,618.2 372.1,598.9 384.9,600.4 397.7,633.0 410.5,632.7 423.3,643.9 436.1,651.8 448.9,667.3 461.7,665.2 474.5,659.5 487.3,655.7 500.1,661.6 512.9,648.2 525.7,622.6 538.5,621.6 551.3,636.7 564.1,642.3 576.9,603.3 589.7,630.2 602.5,626.5 615.3,648.9 628.1,630.0 640.9,649.3 653.7,651.2 666.5,658.7 679.3,656.4 692.1,646.1 704.9,674.3 717.7,661.5 730.5,651.7 743.3,635.7 756.1,658.3 768.9,661.9 781.7,633.8 794.5,632.3 807.3,626.9" fill="none" />
<polyline points="52.1,677.4 64.9,677.0 77.7,677.1 90.5,701.5 103.3,678.5 116.1,686.5 128.9,680.0 141.7,697.3 154.5,689.9 167.3,686.1 180.1,663.4 192.9,690.2 205.7,689.4 218.5,674.8 231.3,643.5 244.1,692.3 256.9,674.8 269.7,642.9 282.5,628.1 295.3,654.3 308.1,653.0 320.9,647.9 333.7,625.8 346.5,645.7 359.3,652.6 372.1,680.6 384.9,682.7 397.7,700.6 410.5,686.1 423.3,663.8 436.1,681.9 448.9,687.9 461.7,671.4 474.5,704.5 487.3,687.0 500.1,700.6 512.9,715.1 525.7,700.7 538.5,666.6 551.3,685.5 564.1,678.4 576.9,669.5 589.7,667.1 602.5,675.7 615.3,667.8 628.1,665.5 640.9,659.8 653.7,675.9 666.5,676.8 679.3,669.6 692.1,646.6 704.9,641.4 717.7,662.3 730.5,670.3 743.3,649.5 756.1,665.9 768.9,652.4 781.7,649.7 794.5,629.3 807.3,657.8" fill="none" />
<polyline points="52.1,677.2 64.9,672.5 77.7,674.1 90.5,702.4 103.3,677.6 116.1,688.8 128.9,680.2 141.7,692.8 154.5,685.9 167.3,672.8 180.1,649.2 192.9,673.1 205.7,672.7 218.5,659.3 231.3,614.4 244.1,666.2 256.9,660.6 269.7,623.1 282.5,615.1 295.3,642.3 308.1,638.1 320.9,627.1 333.7,613.3 346.5,613.8 359.3,629.2 372.1,624.0 384.9,621.1 397.7,638.0 410.5,648.1 423.3,645.9 436.1,614.8 448.9,654.7 461.7,655.9 474.5,652.1 487.3,650.7 500.1,669.1 512.9,668.1 525.7,662.5 538.5,654.7 551.3,660.0 564.1,669.5 576.9,662.4 589.7,650.8 602.5,662.8 615.3,632.5 628.1,647.0 640.9,636.5 653.7,652.6 666.5,650.6 679.3,647.0 692.1,660.5 704.9,674.7 717.7,669.5 730.5,660.7 743.3,661.9 756.1,676.7 768.9,679.0 781.7,674.4 794.5,668.4 807.3,675.3" fill="none" />
<polyline points="52.1,677.8 64.9,679.0 77.7,680.2 90.5,706.5 103.3,681.0 116.1,689.6 128.9,679.4 141.7,697.2 154.5,684.5 167.3,672.2 180.1,653.0 192.9,670.5 205.7,675.0 218.5,651.5 231.3,615.3 244.1,668.1 256.9,652.1 269.7,620.8 282.5,601.2 295.3,636.8 308.1,622.8 320.9,602.2 333.7,589.2 346.5,612.7 359.3,620.4 372.1,617.6 384.9,602.0 397.7,629.1 410.5,624.1 423.3,628.9 436.1,649.8 448.9,664.7 461.7,664.8 474.5,659.7 487.3,657.7 500.1,671.0 512.9,668.5 525.7,667.8 538.5,670.5 551.3,669.4 564.1,677.5 576.9,670.3 589.7,666.8 602.5,682.6 615.3,677.1 628.1,674.5 640.9,668.9 653.7,682.8 666.5,686.8 679.3,695.8 692.1,716.6 704.9,696.5 717.7,696.8 730.5,701.8 743.3,720.2 756.1,716.9 768.9,681.7 781.7,676.5 794.5,669.7 807.3,678.9" fill="none" />
<polyline points="52.1,675.9 64.9,668.8 77.7,669.3 90.5,699.0 103.3,677.6 116.1,686.9 128.9,679.3 141.7,697.3 154.5,689.3 167.3,684.2 180.1,659.3 192.9,690.1 205.7,696.9 218.5,678.8 231.3,639.1 244.1,690.9 256.9,665.4 269.7,637.8 282.5,616.0 295.3,643.9 308.1,640.7 320.9,633.1 333.7,621.7 346.5,636.5 359.3,620.2 372.1,634.3 384.9,610.7 397.7,630.2 410.5,646.8 423.3,646.8 436.1,629.4 448.9,621.6 461.7,641.0 474.5,657.3 487.3,657.0 500.1,668.8 512.9,665.7 525.7,659.1 538.5,655.9 551.3,661.9 564.1,669.6 576.9,661.1 589.7,637.6 602.5,626.0 615.3,608.7 628.1,643.1 640.9,630.5 653.7,654.7 666.5,642.0 679.3,649.9 692.1,622.4 704.9,632.1 717.7,637.4 730.5,632.4 743.3,620.4 756.1,649.6 768.9,655.1 781.7,641.3 794.5,630.0 807.3,628.1" fill="none" />
<polyline points="52.1,676.7 64.9,678.2 77.7,676.0 90.5,705.5 103.3,679.1 116.1,687.1 128.9,680.9 141.7,696.5 154.5,688.3 167.3,676.8 180.1,649.4 192.9,669.1 205.7,671.2 218.5,659.0 231.3,614.8 244.1,669.4 256.9,651.8 269.7,633.5 282.5,615.3 295.3,645.6 308.1,642.3 320.9,634.8 333.7,624.9 346.5,638.7 359.3,632.4 372.1,634.6 384.9,622.7 397.7,636.3 410.5,647.6 423.3,651.0 436.1,650.1 448.9,667.3 461.7,668.2 474.5,663.9 487.3,657.3 500.1,671.4 512.9,684.7 525.7,694.4 538.5,706.6 551.3,719.0 564.1,701.8 576.9,688.6 589.7,673.1 602.5,701.0 615.3,683.6 628.1,682.0 640.9,675.7 653.7,685.5 666.5,691.5 679.3,714.5 692.1,724.6 704.9,740.1 717.7,704.1 730.5,685.9 743.3,751.4 756.1,732.4 768.9,727.6 781.7,718.2 794.5,721.6 807.3,688.6" fill="none" />
<polyline points="52.1,675.2 64.9,669.2 77.7,668.9 90.5,696.0 103.3,675.6 116.1,673.6 128.9,673.8 141.7,692.4 154.5,686.0 167.3,670.9 180.1,648.3 192.9,669.5 205.7,667.6 218.5,653.7 231.3,613.2 244.1,667.8 256.9,663.9 269.7,621.3 282.5,595.8 295.3,626.2 308.1,629.4 320.9,611.0 333.7,614.0 346.5,619.5 359.3,632.1 372.1,634.8 384.9,624.6 397.7,650.1 410.5,655.0 423.3,652.4 436.1,654.1 448.9,667.4 461.7,666.6 474.5,670.3 487.3,675.6 500.1,685.6 512.9,668.6 525.7,677.0 538.5,664.2 551.3,700.7 564.1,697.3 576.9,698.8 589.7,707.6 602.5,720.6 615.3,722.1 628.1,691.6 640.9,668.1 653.7,678.2 666.5,676.8 679.3,672.2 692.1,668.9 704.9,677.7 717.7,674.3 730.5,673.0 743.3,662.3 756.1,675.0 768.9,668.5 781.7,644.7 794.5,651.1 807.3,651.5" fill="none" />
<polyline points="52.1,675.1 64.9,675.4 77.7,676.1 90.5,702.0 103.3,679.7 116.1,687.1 128.9,682.5 141.7,697.2 154.5,688.0 167.3,683.4 180.1,652.5 192.9,680.1 205.7,675.2 218.5,655.3 231.3,621.0 244.1,657.3 256.9,652.8 269.7,624.2 282.5,617.3 295.3,641.1 308.1,636.4 320.9,620.8 333.7,603.0 346.5,613.2 359.3,634.4 372.1,632.0 384.9,627.7 397.7,643.8 410.5,651.9 423.3,652.4 436.1,653.7 448.9,669.2 461.7,665.5 474.5,663.5 487.3,660.9 500.1,672.6 512.9,684.0 525.7,684.0 538.5,678.3 551.3,672.6 564.1,674.8 576.9,670.8 589.7,668.6 602.5,678.4 615.3,676.8 628.1,672.1 640.9,663.8 653.7,660.6 666.5,662.3 679.3,652.9 692.1,601.1 704.9,655.2 717.7,668.4 730.5,672.6 743.3,660.6 756.1,671.7 768.9,678.9 781.7,674.9 794.5,670.8 807.3,674.9" fill="none" />
<polyline points="52.1,674.5 64.9,670.0 77.7,670.4 90.5,696.3 103.3,675.6 116.1,684.6 128.9,678.7 141.7,693.6 154.5,689.4 167.3,681.8 180.1,658.7 192.9,690.2 205.7,689.8 218.5,678.9 231.3,643.8 244.1,703.2 256.9,677.9 269.7,654.9 282.5,635.7 295.3,657.4 308.1,653.0 320.9,639.1 333.7,624.8 346.5,637.2 359.3,632.0 372.1,625.2 384.9,615.1 397.7,619.5 410.5,621.5 423.3,645.5 436.1,643.3 448.9,656.2 461.7,636.6 474.5,657.1 487.3,656.6 500.1,669.6 512.9,668.1 525.7,662.1 538.5,668.3 551.3,676.5 564.1,673.0 576.9,669.1 589.7,679.6 602.5,688.0 615.3,704.3 628.1,709.5 640.9,697.8 653.7,709.3 666.5,719.7 679.3,693.8 692.1,722.0 704.9,704.0 717.7,703.1 730.5,691.1 743.3,717.0 756.1,724.6 768.9,715.3 781.7,720.5 794.5,701.3 807.3,683.7" fill="none" />
<polyline points="52.1,676.3 64.9,679.4 77.7,680.5 90.5,705.8 103.3,678.3 116.1,686.8 128.9,679.1 141.7,696.3 154.5,688.8 167.3,684.0 180.1,658.6 192.9,679.8 205.7,678.9 218.5,668.7 231.3,636.8 244.1,687.2 256.9,672.7 269.7,657.6 282.5,635.7 295.3,659.4 308.1,659.4 320.9,662.1 333.7,642.6 346.5,661.1 359.3,664.3 372.1,652.6 384.9,656.3 397.7,651.8 410.5,652.8 423.3,658.2 436.1,663.1 448.9,681.0 461.7,665.6 474.5,666.0 487.3,658.7 500.1,675.2 512.9,667.6 525.7,639.9 538.5,644.4 551.3,665.6 564.1,650.8 576.9,664.6 589.7,652.8 602.5,636.1 615.3,661.0 628.1,664.6 640.9,653.1 653.7,667.0 666.5,646.7 679.3,637.9 692.1,636.0 704.9,651.7 717.7,659.7 730.5,668.6 743.3,661.5 756.1,674.9 768.9,679.0 781.7,673.9 794.5,668.4 807.3,689.7" fill="none" />
<polyline points="52.1,677.5 64.9,678.8 77.7,678.4 90.5,705.4 103.3,680.0 116.1,693.5 128.9,682.9 141.7,698.6 154.5,695.8 167.3,692.7 180.1,674.8 192.9,698.6 205.7,701.9 218.5,675.3 231.3,643.0 244.1,684.0 256.9,664.0 269.7,636.0 282.5,619.5 295.3,645.5 308.1,645.0 320.9,634.6 333.7,628.5 346.5,642.3 359.3,648.1 372.1,655.1 384.9,634.6 397.7,655.2 410.5,651.6 423.3,649.2 436.1,654.1 448.9,666.4 461.7,665.1 474.5,657.8 487.3,652.2 500.1,657.1 512.9,656.4 525.7,648.2 538.5,638.8 551.3,643.7 564.1,642.3 576.9,625.3 589.7,604.7 602.5,644.4 615.3,635.5 628.1,640.8 640.9,652.0 653.7,656.2 666.5,672.2 679.3,672.5 692.1,669.1 704.9,693.6 717.7,678.2 730.5,682.2 743.3,664.0 756.1,696.5 768.9,710.6 781.7,716.7 794.5,728.6 807.3,708.9" fill="none" />
<polyline points="52.1,675.9 64.9,678.4 77.7,673.8 90.5,704.1 103.3,677.6 116.1,683.3 128.9,676.6 141.7,694.9 154.5,687.7 167.3,677.2 180.1,655.7 192.9,675.9 205.7,680.5 218.5,661.8 231.3,630.5 244.1,685.9 256.9,664.4 269.7,634.8 282.5,618.2 295.3,646.7 308.1,647.6 320.9,635.0 333.7,623.3 346.5,643.2 359.3,640.1 372.1,646.0 384.9,633.9 397.7,651.7 410.5,652.9 423.3,651.2 436.1,653.3 448.9,665.2 461.7,663.9 474.5,657.1 487.3,656.9 500.1,655.4 512.9,657.7 525.7,654.1 538.5,623.3 551.3,652.6 564.1,651.5 576.9,650.5 589.7,637.0 602.5,651.9 615.3,644.7 628.1,656.2 640.9,653.3 653.7,667.6 666.5,647.5 679.3,621.6 692.1,639.3 704.9,648.9 717.7,660.4 730.5,671.1 743.3,644.0 756.1,671.5 768.9,678.7 781.7,673.8 794.5,668.3 807.3,671.2" fill="none" />
<polyline points="52.1,676.1 64.9,677.4 77.7,678.2 90.5,704.1 103.3,677.1 116.1,686.4 128.9,677.2 141.7,694.0 154.5,689.7 167.3,684.0 180.1,662.4 192.9,686.8 205.7,689.4 218.5,669.0 231.3,633.3 244.1,681.8 256.9,660.9 269.7,635.9 282.5,620.3 295.3,645.6 308.1,639.8 320.9,624.1 333.7,612.5 346.5,612.9 359.3,610.5 372.1,614.3 384.9,578.4 397.7,624.9 410.5,634.1 423.3,629.9 436.1,643.8 448.9,660.1 461.7,662.9 474.5,660.0 487.3,646.9 500.1,642.3 512.9,640.6 525.7,645.8 538.5,626.8 551.3,655.4 564.1,664.5 576.9,665.5 589.7,666.0 602.5,672.3 615.3,663.5 628.1,666.5 640.9,666.5 653.7,671.9 666.5,676.0 679.3,674.3 692.1,677.7 704.9,677.3 717.7,677.6 730.5,681.8 743.3,663.8 756.1,679.5 768.9,699.4 781.7,684.8 794.5,673.9 807.3,683.7" fill="none" />
<polyline points="52.1,673.5 64.9,670.0 77.7,675.8 90.5,700.8 103.3,675.2 116.1,685.9 128.9,676.3 141.7,691.8 154.5,680.7 167.3,678.8 180.1,642.8 192.9,668.5 205.7,670.2 218.5,656.1 231.3,602.2 244.1,676.1 256.9,646.6 269.7,611.4 282.5,610.8 295.3,621.0 308.1,624.6 320.9,610.8 333.7,600.3 346.5,608.7 359.3,606.5 372.1,607.5 384.9,607.5 397.7,624.4 410.5,621.3 423.3,620.7 436.1,620.8 448.9,645.5 461.7,638.3 474.5,660.2 487.3,657.4 500.1,662.7 512.9,666.8 525.7,664.4 538.5,656.8 551.3,661.6 564.1,650.1 576.9,630.6 589.7,633.6 602.5,646.0 615.3,636.3 628.1,617.3 640.9,638.0 653.7,657.9 666.5,659.2 679.3,641.5 692.1,662.0 704.9,664.9 717.7,660.9 730.5,667.6 743.3,645.0 756.1,675.2 768.9,679.2 781.7,682.6 794.5,673.6 807.3,687.1" fill="none" />
<polyline points="52.1,675.3 64.9,673.8 77.7,671.6 90.5,699.2 103.3,675.3 116.1,681.1 128.9,671.6 141.7,688.1 154.5,684.6 167.3,676.8 180.1,644.1 192.9,672.3 205.7,671.2 218.5,652.4 231.3,612.4 244.1,666.6 256.9,648.9 269.7,601.1 282.5,599.9 295.3,632.1 308.1,630.8 320.9,627.0 333.7,602.7 346.5,633.3 359.3,616.6 372.1,609.4 384.9,611.1 397.7,625.0 410.5,627.8 423.3,620.2 436.1,626.3 448.9,643.5 461.7,646.3 474.5,631.7 487.3,632.1 500.1,638.4 512.9,644.1 525.7,641.6 538.5,624.7 551.3,645.1 564.1,626.5 576.9,634.2 589.7,643.5 602.5,644.6 615.3,672.3 628.1,674.3 640.9,668.6 653.7,675.6 666.5,676.7 679.3,674.2 692.1,642.2 704.9,653.6 717.7,654.4 730.5,658.5 743.3,638.3 756.1,673.8 768.9,649.9 781.7,647.8 794.5,630.3 807.3,654.2" fill="none" />
<polyline points="52.1,674.2 64.9,673.3 77.7,675.9 90.5,705.4 103.3,682.5 116.1,689.8 128.9,681.4 141.7,701.6 154.5,689.6 167.3,679.6 180.1,653.4 192.9,682.2 205.7,674.7 218.5,660.6 231.3,615.5 244.1,671.7 256.9,662.6 269.7,628.9 282.5,618.4 295.3,645.3 308.1,642.6 320.9,635.7 333.7,624.8 346.5,641.0 359.3,640.3 372.1,639.1 384.9,637.0 397.7,653.4 410.5,654.9 423.3,655.0 436.1,674.7 448.9,670.4 461.7,667.4 474.5,661.7 487.3,657.5 500.1,668.1 512.9,665.8 525.7,662.8 538.5,657.2 551.3,669.4 564.1,671.0 576.9,670.6 589.7,666.3 602.5,674.0 615.3,677.4 628.1,674.5 640.9,668.6 653.7,679.7 666.5,698.9 679.3,689.8 692.1,691.9 704.9,709.2 717.7,702.3 730.5,704.6 743.3,707.1 756.1,696.3 768.9,710.4 781.7,746.6 794.5,707.8 807.3,702.0" fill="none" />
<polyline points="52.1,672.8 64.9,677.8 77.7,679.3 90.5,705.0 103.3,679.2 116.1,688.7 128.9,679.3 141.7,696.3 154.5,688.9 167.3,676.0 180.1,642.2 192.9,668.2 205.7,670.7 218.5,651.2 231.3,621.2 244.1,671.2 256.9,658.6 269.7,621.4 282.5,605.6 295.3,633.1 308.1,639.3 320.9,632.0 333.7,622.7 346.5,642.4 359.3,638.6 372.1,634.3 384.9,631.9 397.7,645.9 410.5,646.0 423.3,646.1 436.1,641.4 448.9,662.6 461.7,651.2 474.5,646.5 487.3,649.0 500.1,633.0 512.9,656.3 525.7,650.0 538.5,653.3 551.3,660.5 564.1,632.4 576.9,626.2 589.7,632.4 602.5,620.8 615.3,656.6 628.1,635.2 640.9,633.3 653.7,647.8 666.5,657.6 679.3,636.9 692.1,630.7 704.9,644.7 717.7,630.3 730.5,629.8 743.3,640.4 756.1,651.4 768.9,660.8 781.7,647.4 794.5,628.5 807.3,627.1" fill="none" />
<polyline points="52.1,673.4 64.9,666.7 77.7,669.1 90.5,699.2 103.3,676.0 116.1,682.2 128.9,667.6 141.7,689.9 154.5,686.6 167.3,681.2 180.1,656.0 192.9,679.3 205.7,677.0 218.5,667.3 231.3,629.1 244.1,682.1 256.9,670.9 269.7,650.5 282.5,643.4 295.3,653.4 308.1,659.3 320.9,667.1 333.7,666.0 346.5,663.7 359.3,656.4 372.1,671.6 384.9,666.8 397.7,677.7 410.5,690.5 423.3,659.4 436.1,670.7 448.9,670.7 461.7,682.9 474.5,701.9 487.3,704.6 500.1,690.7 512.9,684.3 525.7,697.0 538.5,674.4 551.3,705.1 564.1,679.5 576.9,675.6 589.7,688.3 602.5,687.3 615.3,682.8 628.1,689.1 640.9,712.7 653.7,723.4 666.5,718.7 679.3,728.2 692.1,699.9 704.9,728.6 717.7,698.0 730.5,685.8 743.3,683.8 756.1,688.0 768.9,712.7 781.7,696.2 794.5,685.9 807.3,701.1" fill="none" />
<polyline points="52.1,673.9 64.9,669.0 77.7,669.6 90.5,698.6 103.3,676.1 116.1,687.3 128.9,676.2 141.7,693.7 154.5,687.7 167.3,683.1 180.1,658.5 192.9,684.9 205.7,683.9 218.5,668.5 231.3,636.1 244.1,686.2 256.9,669.5 269.7,644.2 282.5,621.2 295.3,645.7 308.1,639.3 320.9,634.1 333.7,624.2 346.5,645.6 359.3,661.5 372.1,670.3 384.9,659.0 397.7,669.6 410.5,657.0 423.3,667.7 436.1,659.5 448.9,682.6 461.7,673.5 474.5,665.7 487.3,668.4 500.1,669.5 512.9,677.4 525.7,664.9 538.5,658.0 551.3,669.2 564.1,671.0 576.9,684.7 589.7,676.5 602.5,678.4 615.3,676.0 628.1,675.6 640.9,673.7 653.7,697.6 666.5,684.0 679.3,713.0 692.1,713.4 704.9,686.3 717.7,687.4 730.5,698.8 743.3,672.8 756.1,692.7 768.9,710.1 781.7,721.5 794.5,709.9 807.3,701.0" fill="none" />
<polyline points="52.1,671.4 64.9,670.8 77.7,667.8 90.5,694.1 103.3,674.6 116.1,680.5 128.9,673.4 141.7,691.3 154.5,685.3 167.3,674.7 180.1,642.2 192.9,669.1 205.7,673.8 218.5,660.0 231.3,628.6 244.1,682.2 256.9,659.3 269.7,626.2 282.5,616.7 295.3,645.5 308.1,638.1 320.9,633.2 333.7,621.9 346.5,640.5 359.3,642.2 372.1,649.4 384.9,639.7 397.7,664.6 410.5,661.6 423.3,666.0 436.1,700.2 448.9,708.9 461.7,682.2 474.5,694.9 487.3,666.2 500.1,682.0 512.9,681.9 525.7,670.9 538.5,683.0 551.3,742.8 564.1,707.3 576.9,730.7 589.7,719.4 602.5,705.8 615.3,703.5 628.1,706.1 640.9,680.3 653.7,693.9 666.5,685.8 679.3,711.1 692.1,755.8 704.9,724.6 717.7,708.1 730.5,698.0 743.3,675.4 756.1,695.9 768.9,685.2 781.7,692.4 794.5,695.5 807.3,716.4" fill="none" />
<polyline points="52.1,672.0 64.9,669.9 77.7,662.8 90.5,697.5 103.3,676.8 116.1,684.8 128.9,675.7 141.7,687.6 154.5,681.3 167.3,675.5 180.1,650.0 192.9,683.1 205.7,681.6 218.5,668.3 231.3,631.0 244.1,677.9 256.9,658.0 269.7,618.8 282.5,614.5 295.3,644.8 308.1,641.0 320.9,634.3 333.7,623.7 346.5,643.2 359.3,639.1 372.1,639.0 384.9,631.7 397.7,650.2 410.5,647.7 423.3,651.8 436.1,653.5 448.9,667.0 461.7,658.1 474.5,632.6 487.3,634.5 500.1,653.1 512.9,644.6 525.7,653.7 538.5,629.8 551.3,653.7 564.1,658.7 576.9,664.8 589.7,666.0 602.5,675.0 615.3,673.3 628.1,654.3 640.9,661.7 653.7,669.8 666.5,669.1 679.3,640.1 692.1,631.4 704.9,658.0 717.7,657.0 730.5,617.3 743.3,652.4 756.1,671.4 768.9,675.2 781.7,673.2 794.5,666.4 807.3,671.9" fill="none" />
<polyline points="52.1,672.3 64.9,668.6 77.7,671.0 90.5,696.2 103.3,673.6 116.1,679.8 128.9,676.9 141.7,691.7 154.5,686.9 167.3,675.6 180.1,649.5 192.9,678.6 205.7,682.4 218.5,666.3 231.3,630.2 244.1,680.9 256.9,660.5 269.7,635.3 282.5,616.9 295.3,642.4 308.1,639.0 320.9,631.1 333.7,622.7 346.5,640.0 359.3,642.2 372.1,641.6 384.9,633.2 397.7,650.3 410.5,654.6 423.3,652.3 436.1,653.5 448.9,669.9 461.7,665.5 474.5,670.4 487.3,658.9 500.1,677.4 512.9,670.1 525.7,661.9 538.5,654.7 551.3,669.2 564.1,673.6 576.9,669.2 589.7,668.9 602.5,678.6 615.3,681.7 628.1,685.4 640.9,669.0 653.7,681.1 666.5,678.1 679.3,674.7 692.1,662.4 704.9,673.4 717.7,665.0 730.5,667.6 743.3,623.7 756.1,645.4 768.9,636.8 781.7,636.7 794.5,621.4 807.3,654.4" fill="none" />
<polyline points="52.1,672.8 64.9,659.0 77.7,666.7 90.5,697.2 103.3,675.3 116.1,680.0 128.9,679.4 141.7,697.0 154.5,687.3 167.3,677.2 180.1,655.0 192.9,684.6 205.7,683.9 218.5,672.6 231.3,649.0 244.1,718.4 256.9,674.2 269.7,646.7 282.5,645.8 295.3,664.2 308.1,645.4 320.9,653.0 333.7,625.1 346.5,640.3 359.3,640.0 372.1,639.7 384.9,633.5 397.7,650.7 410.5,652.1 423.3,652.2 436.1,651.4 448.9,667.2 461.7,661.8 474.5,657.8 487.3,636.2 500.1,659.3 512.9,663.1 525.7,641.8 538.5,639.5 551.3,642.3 564.1,628.4 576.9,616.6 589.7,584.9 602.5,651.2 615.3,641.8 628.1,631.9 640.9,602.2 653.7,644.4 666.5,651.6 679.3,657.3 692.1,633.8 704.9,626.5 717.7,644.8 730.5,636.6 743.3,649.9 756.1,676.2 768.9,669.1 781.7,635.0 794.5,650.0 807.3,639.5" fill="none" />
</g>
<polyline points="52.1,677.9 64.9,679.0 77.7,680.1 90.5,706.0 103.3,680.1 116.1,689.8 128.9,681.1 141.7,697.4 154.5,689.8 167.3,684.4 180.1,659.0 192.9,686.0 205.7,684.9 218.5,669.2 231.3,634.6 244.1,685.5 256.9,664.9 269.7,635.7 282.5,619.5 295.3,645.4 308.1,641.1 320.9,634.6 333.7,622.7 346.5,640.0 359.3,639.0 372.1,639.0 384.9,628.1 397.7,650.3 410.5,651.9 423.3,652.5 436.1,653.6 448.9,667.4 461.7,665.2 474.5,661.7 487.3,657.3 500.1,669.2 512.9,668.2 525.7,662.8 538.5,653.7 551.3,669.2 564.1,671.0 576.9,665.5 589.7,664.5 602.5,675.7 615.3,677.4 628.1,674.3 640.9,668.6 653.7,678.2 666.5,676.8 679.3,666.5 692.1,659.5 704.9,677.7 717.7,674.3 730.5,673.0 743.3,661.7 756.1,674.6 768.9,679.0 781.7,674.3 794.5,668.4 807.3,674.3" fill="none" stroke="#e010e8" stroke-width="2.6" stroke-dasharray="12 6"/>
<polyline points="52.1,677.9 64.9,679.0 77.7,680.1 90.5,706.0 103.3,680.1 116.1,689.8 128.9,681.1 141.7,697.4 154.5,689.8 167.3,684.4 180.1,659.0 192.9,686.0 205.7,684.9 218.5,669.2 231.3,634.6 244.1,685.5 256.9,664.9 269.7,635.7 282.5,619.5 295.3,645.4 308.1,641.1 320.9,634.6 333.7,622.7 346.5,640.0 359.3,639.0 372.1,639.0 384.9,633.5 397.7,650.3 410.5,651.9 423.3,652.5 436.1,653.6 448.9,667.4 461.7,665.2 474.5,661.7 487.3,657.3 500.1,669.2 512.9,668.2 525.7,662.8 538.5,657.3 551.3,669.2 564.1,671.0 576.9,669.2 589.7,666.5 602.5,675.7 615.3,675.7 628.1,674.3 640.9,668.6 653.7,678.2 666.5,676.8 679.3,674.3 692.1,668.2 704.9,677.7 717.7,674.3 730.5,673.0 743.3,663.8 756.1,676.8 768.9,679.0 781.7,674.3 794.5,668.4 807.3,674.3" fill="none" stroke="#1a1a1a" stroke-width="2.8" stroke-dasharray="2.7 2.4"/>
<polyline points="52.1,676.8 64.9,677.9 77.7,679.5 90.5,706.6 103.3,679.0 116.1,688.7 128.9,681.1 141.7,696.8 154.5,689.3 167.3,682.8 180.1,663.3 192.9,682.2 205.7,682.8 218.5,671.9 231.3,629.2 244.1,684.9 256.9,667.1 269.7,641.1 282.5,613.0 295.3,643.8 308.1,635.7 320.9,628.1 333.7,598.9 346.5,628.1 359.3,618.4 372.1,630.8 384.9,626.5 397.7,633.5 410.5,635.7 423.3,635.7 436.1,635.2 448.9,650.9 461.7,658.4 474.5,642.7 487.3,636.8 500.1,661.7 512.9,659.0 525.7,638.2 538.5,648.7 551.3,655.2 564.1,680.8 576.9,706.6 589.7,732.4 602.5,720.8 615.3,708.4 628.1,723.3 640.9,723.3 653.7,720.3 666.5,704.9 679.3,699.5 692.1,669.9 704.9,701.5 717.7,692.4 730.5,700.2 743.3,660.2 756.1,680.3 768.9,675.7 781.7,665.2 794.5,665.2 807.3,669.9" fill="none" stroke="#3333cc" stroke-width="3.75" stroke-linejoin="round"/>
<polyline points="52.1,678.2 64.9,680.1 77.7,682.8 90.5,703.9 103.3,681.1 116.1,695.2 128.9,683.3 141.7,695.7 154.5,689.8 167.3,690.9 180.1,671.4 192.9,682.8 205.7,685.5 218.5,681.7 231.3,637.9 244.1,689.8 256.9,669.2 269.7,645.4 282.5,618.8 295.3,642.2 308.1,635.7 320.9,629.2 333.7,607.6 346.5,624.9 359.3,618.4 372.1,634.6 384.9,634.6 397.7,634.6 410.5,636.8 423.3,639.0 436.1,636.8 448.9,650.9 461.7,659.5 474.5,646.0 487.3,640.8 500.1,662.2 512.9,660.0 525.7,640.8 538.5,648.7 551.3,653.6" fill="none" stroke="#cc3333" stroke-width="3.75" stroke-linejoin="round"/>
<rect x="52.1" y="500.5" width="755.20" height="324.5" fill="none" stroke="#111" stroke-width="1.5"/>
<line x1="52.10" x2="52.10" y1="825.0" y2="830.8" stroke="#111" stroke-width="1.3"/>
<line x1="64.90" x2="64.90" y1="825.0" y2="830.8" stroke="#111" stroke-width="1.3"/>
<line x1="77.70" x2="77.70" y1="825.0" y2="830.8" stroke="#111" stroke-width="1.3"/>
<line x1="103.30" x2="103.30" y1="825.0" y2="830.8" stroke="#111" stroke-width="1.3"/>
<line x1="116.10" x2="116.10" y1="825.0" y2="830.8" stroke="#111" stroke-width="1.3"/>
<line x1="128.90" x2="128.90" y1="825.0" y2="830.8" stroke="#111" stroke-width="1.3"/>
<line x1="154.50" x2="154.50" y1="825.0" y2="830.8" stroke="#111" stroke-width="1.3"/>
<line x1="167.30" x2="167.30" y1="825.0" y2="830.8" stroke="#111" stroke-width="1.3"/>
<line x1="180.10" x2="180.10" y1="825.0" y2="830.8" stroke="#111" stroke-width="1.3"/>
<line x1="205.70" x2="205.70" y1="825.0" y2="830.8" stroke="#111" stroke-width="1.3"/>
<line x1="218.50" x2="218.50" y1="825.0" y2="830.8" stroke="#111" stroke-width="1.3"/>
<line x1="231.30" x2="231.30" y1="825.0" y2="830.8" stroke="#111" stroke-width="1.3"/>
<line x1="256.90" x2="256.90" y1="825.0" y2="830.8" stroke="#111" stroke-width="1.3"/>
<line x1="269.70" x2="269.70" y1="825.0" y2="830.8" stroke="#111" stroke-width="1.3"/>
<line x1="282.50" x2="282.50" y1="825.0" y2="830.8" stroke="#111" stroke-width="1.3"/>
<line x1="308.10" x2="308.10" y1="825.0" y2="830.8" stroke="#111" stroke-width="1.3"/>
<line x1="320.90" x2="320.90" y1="825.0" y2="830.8" stroke="#111" stroke-width="1.3"/>
<line x1="333.70" x2="333.70" y1="825.0" y2="830.8" stroke="#111" stroke-width="1.3"/>
<line x1="359.30" x2="359.30" y1="825.0" y2="830.8" stroke="#111" stroke-width="1.3"/>
<line x1="372.10" x2="372.10" y1="825.0" y2="830.8" stroke="#111" stroke-width="1.3"/>
<line x1="384.90" x2="384.90" y1="825.0" y2="830.8" stroke="#111" stroke-width="1.3"/>
<line x1="410.50" x2="410.50" y1="825.0" y2="830.8" stroke="#111" stroke-width="1.3"/>
<line x1="423.30" x2="423.30" y1="825.0" y2="830.8" stroke="#111" stroke-width="1.3"/>
<line x1="436.10" x2="436.10" y1="825.0" y2="830.8" stroke="#111" stroke-width="1.3"/>
<line x1="461.70" x2="461.70" y1="825.0" y2="830.8" stroke="#111" stroke-width="1.3"/>
<line x1="474.50" x2="474.50" y1="825.0" y2="830.8" stroke="#111" stroke-width="1.3"/>
<line x1="487.30" x2="487.30" y1="825.0" y2="830.8" stroke="#111" stroke-width="1.3"/>
<line x1="512.90" x2="512.90" y1="825.0" y2="830.8" stroke="#111" stroke-width="1.3"/>
<line x1="525.70" x2="525.70" y1="825.0" y2="830.8" stroke="#111" stroke-width="1.3"/>
<line x1="538.50" x2="538.50" y1="825.0" y2="830.8" stroke="#111" stroke-width="1.3"/>
<line x1="564.10" x2="564.10" y1="825.0" y2="830.8" stroke="#111" stroke-width="1.3"/>
<line x1="576.90" x2="576.90" y1="825.0" y2="830.8" stroke="#111" stroke-width="1.3"/>
<line x1="589.70" x2="589.70" y1="825.0" y2="830.8" stroke="#111" stroke-width="1.3"/>
<line x1="615.30" x2="615.30" y1="825.0" y2="830.8" stroke="#111" stroke-width="1.3"/>
<line x1="628.10" x2="628.10" y1="825.0" y2="830.8" stroke="#111" stroke-width="1.3"/>
<line x1="640.90" x2="640.90" y1="825.0" y2="830.8" stroke="#111" stroke-width="1.3"/>
<line x1="666.50" x2="666.50" y1="825.0" y2="830.8" stroke="#111" stroke-width="1.3"/>
<line x1="679.30" x2="679.30" y1="825.0" y2="830.8" stroke="#111" stroke-width="1.3"/>
<line x1="692.10" x2="692.10" y1="825.0" y2="830.8" stroke="#111" stroke-width="1.3"/>
<line x1="717.70" x2="717.70" y1="825.0" y2="830.8" stroke="#111" stroke-width="1.3"/>
<line x1="730.50" x2="730.50" y1="825.0" y2="830.8" stroke="#111" stroke-width="1.3"/>
<line x1="743.30" x2="743.30" y1="825.0" y2="830.8" stroke="#111" stroke-width="1.3"/>
<line x1="768.90" x2="768.90" y1="825.0" y2="830.8" stroke="#111" stroke-width="1.3"/>
<line x1="781.70" x2="781.70" y1="825.0" y2="830.8" stroke="#111" stroke-width="1.3"/>
<line x1="794.50" x2="794.50" y1="825.0" y2="830.8" stroke="#111" stroke-width="1.3"/>
<line x1="46.3" x2="52.1" y1="825.00" y2="825.00" stroke="#111" stroke-width="1.3"/>
<text transform="translate(42.90 829.90) scale(1 1.08)" text-anchor="end" textLength="7.0" lengthAdjust="spacingAndGlyphs">0</text>
<line x1="46.3" x2="52.1" y1="770.92" y2="770.92" stroke="#111" stroke-width="1.3"/>
<text transform="translate(42.90 775.82) scale(1 1.08)" text-anchor="end" textLength="7.0" lengthAdjust="spacingAndGlyphs">5</text>
<line x1="46.3" x2="52.1" y1="716.83" y2="716.83" stroke="#111" stroke-width="1.3"/>
<text transform="translate(42.90 721.73) scale(1 1.08)" text-anchor="end" textLength="14.0" lengthAdjust="spacingAndGlyphs">10</text>
<line x1="46.3" x2="52.1" y1="662.75" y2="662.75" stroke="#111" stroke-width="1.3"/>
<text transform="translate(42.90 667.65) scale(1 1.08)" text-anchor="end" textLength="14.0" lengthAdjust="spacingAndGlyphs">15</text>
<line x1="46.3" x2="52.1" y1="608.67" y2="608.67" stroke="#111" stroke-width="1.3"/>
<text transform="translate(42.90 613.57) scale(1 1.08)" text-anchor="end" textLength="14.0" lengthAdjust="spacingAndGlyphs">20</text>
<line x1="46.3" x2="52.1" y1="554.58" y2="554.58" stroke="#111" stroke-width="1.3"/>
<text transform="translate(42.90 559.48) scale(1 1.08)" text-anchor="end" textLength="14.0" lengthAdjust="spacingAndGlyphs">25</text>
<line x1="46.3" x2="52.1" y1="500.50" y2="500.50" stroke="#111" stroke-width="1.3"/>
<text transform="translate(42.90 505.40) scale(1 1.08)" text-anchor="end" textLength="14.0" lengthAdjust="spacingAndGlyphs">30</text>
<text transform="translate(64.90 844.70) scale(1 1.08)" text-anchor="middle">Za 9</text>
<text transform="translate(116.10 844.70) scale(1 1.08)" text-anchor="middle">Zo 10</text>
<text transform="translate(166.30 844.70) scale(1 1.08)" text-anchor="middle">Ma 11</text>
<text transform="translate(218.50 844.70) scale(1 1.08)" text-anchor="middle">Di 12</text>
<text transform="translate(268.90 844.70) scale(1 1.08)" text-anchor="middle">Wo 13</text>
<text transform="translate(320.90 844.70) scale(1 1.08)" text-anchor="middle">Do 14</text>
<text transform="translate(371.80 844.70) scale(1 1.08)" text-anchor="middle">Vr 15</text>
<text transform="translate(423.30 844.70) scale(1 1.08)" text-anchor="middle">Za 16</text>
<text transform="translate(474.50 844.70) scale(1 1.08)" text-anchor="middle">Zo 17</text>
<text transform="translate(524.70 844.70) scale(1 1.08)" text-anchor="middle">Ma 18</text>
<text transform="translate(576.90 844.70) scale(1 1.08)" text-anchor="middle">Di 19</text>
<text transform="translate(627.30 844.70) scale(1 1.08)" text-anchor="middle">Wo 20</text>
<text transform="translate(679.30 844.70) scale(1 1.08)" text-anchor="middle">Do 21</text>
<text transform="translate(730.20 844.70) scale(1 1.08)" text-anchor="middle">Vr 22</text>
<text transform="translate(781.70 844.70) scale(1 1.08)" text-anchor="middle">Za 23</text>
<line x1="48.8" x2="69.1" y1="491.6" y2="491.6" stroke="#cc3333" stroke-width="3.9"/>
<text transform="translate(73.90 495.90) scale(1 1.08)" textLength="33.3" lengthAdjust="spacingAndGlyphs">Oper.</text>
<line x1="137.6" x2="158" y1="491.6" y2="491.6" stroke="#3333cc" stroke-width="3.9"/>
<text transform="translate(162.30 495.90) scale(1 1.08)" textLength="49.6" lengthAdjust="spacingAndGlyphs">Controle</text>
<line x1="244" x2="263.2" y1="491.6" y2="491.6" stroke="#2f9410" stroke-opacity="0.4" stroke-width="1.2"/>
<text transform="translate(267.70 495.90) scale(1 1.08)" textLength="36.7" lengthAdjust="spacingAndGlyphs">Leden</text>
<line x1="334.9" x2="353.3" y1="491.6" y2="491.6" stroke="#1a1a1a" stroke-width="3" stroke-dasharray="2.9 2.2"/>
<text transform="translate(360.20 495.90) scale(1 1.08)" textLength="66.6" lengthAdjust="spacingAndGlyphs">gemiddelde</text>
<line x1="457.8" x2="478" y1="491.6" y2="491.6" stroke="#e010e8" stroke-width="2.6" stroke-dasharray="12.6 6"/>
<text transform="translate(482.20 495.90) scale(1 1.08)" textLength="171.4" lengthAdjust="spacingAndGlyphs">mediaan (middelste waarde)</text>
<g class="wm"><text transform="translate(805.50 483.20) scale(1 1.04)" text-anchor="end" textLength="156.4" lengthAdjust="spacingAndGlyphs">Weerplaza.nl - regio noordoost</text><text transform="translate(805.50 495.80) scale(1 1.04)" text-anchor="end" textLength="135.5" lengthAdjust="spacingAndGlyphs">Gemaakt: za 09 aug 09:01</text></g>
</svg>
</body></html>
